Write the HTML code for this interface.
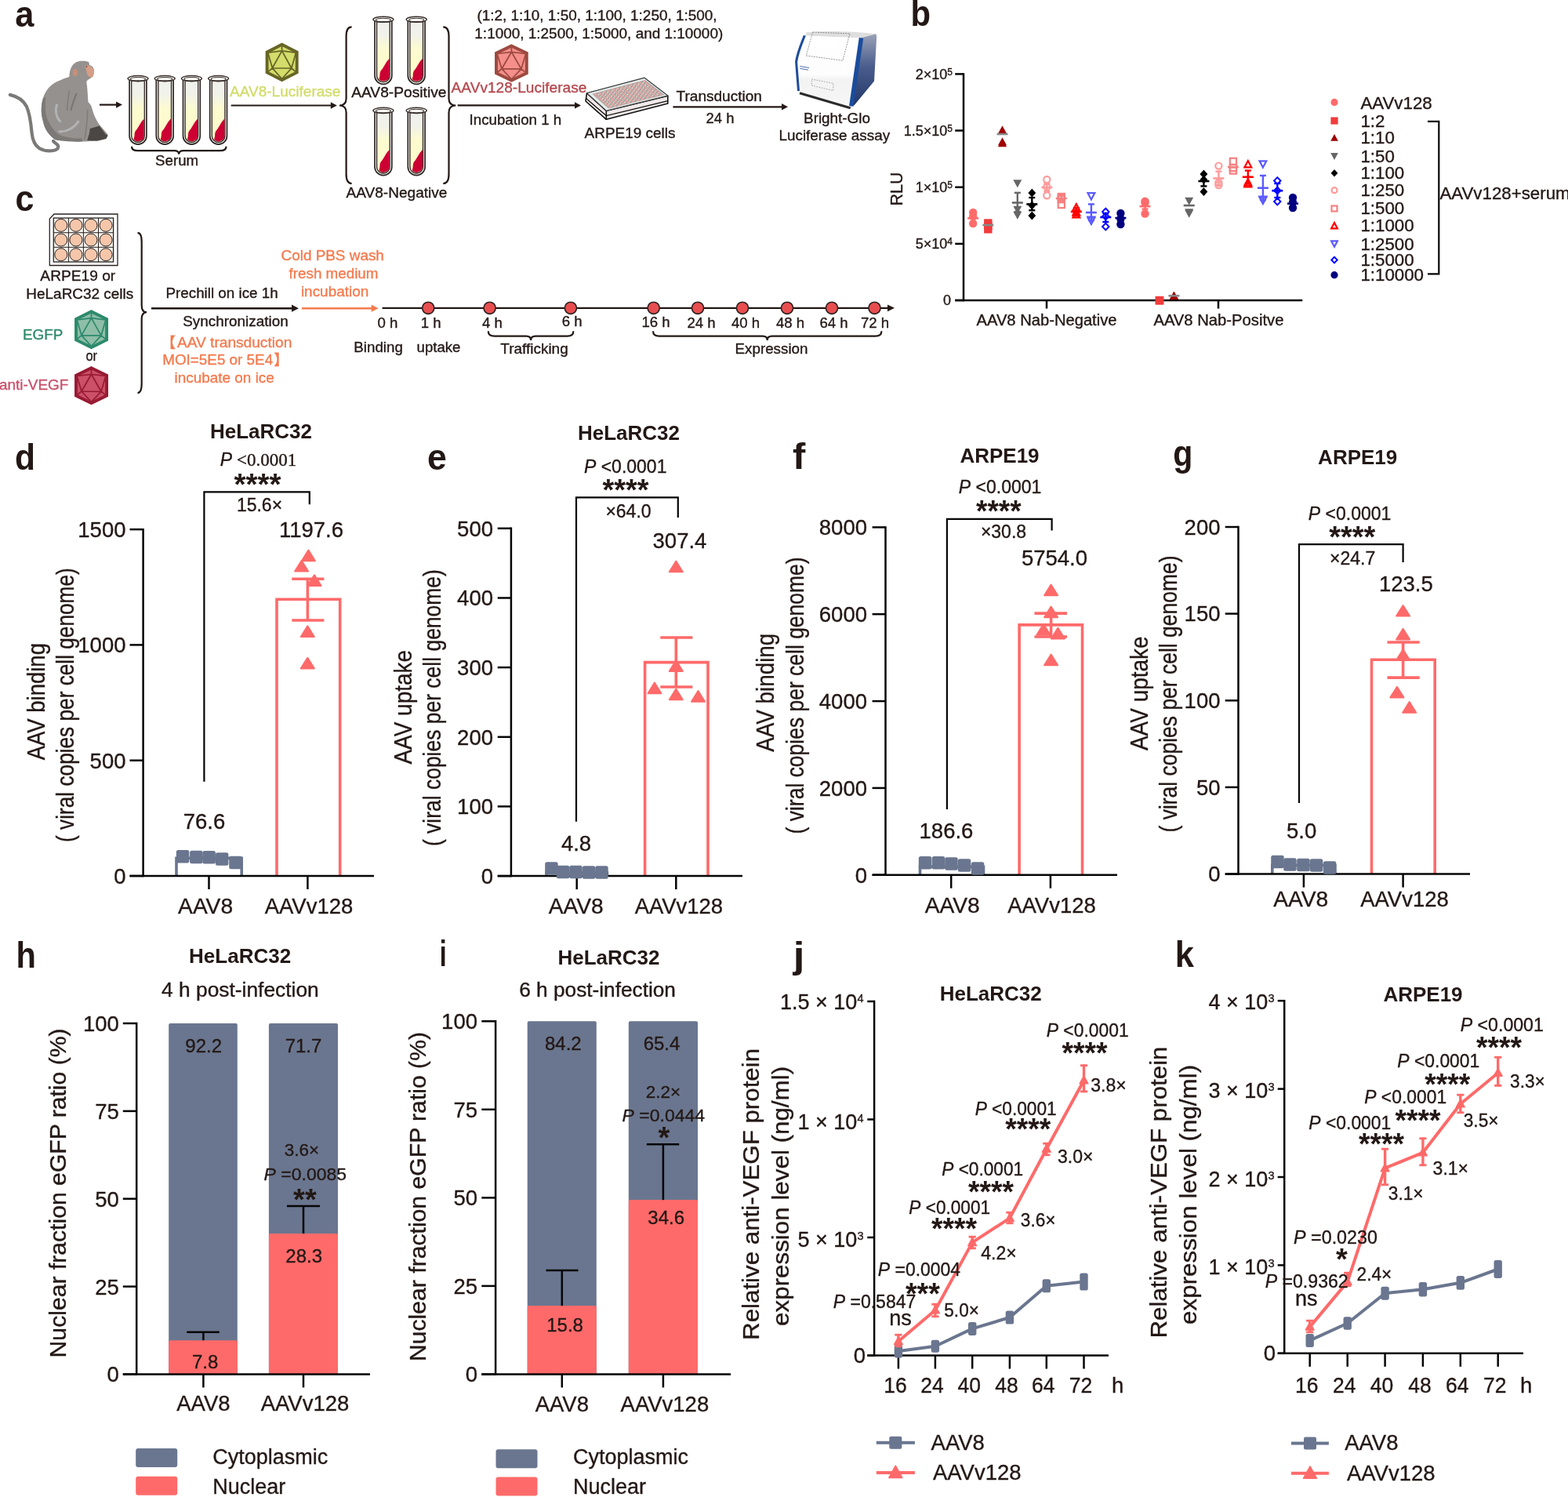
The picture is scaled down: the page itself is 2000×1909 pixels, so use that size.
<!DOCTYPE html>
<html><head><meta charset="utf-8"><title>Figure</title>
<style>
html,body{margin:0;padding:0;background:#fff;}
svg{display:block;font-family:'Liberation Sans', Arial, Helvetica, sans-serif;}
</style></head><body>
<svg width="2000" height="1909" viewBox="0 0 2000 1909" fill="#231815">
<defs><linearGradient id="tubeg" x1="0" y1="0" x2="0" y2="1"><stop offset="0" stop-color="#f0f1ec"/><stop offset="0.22" stop-color="#f1f2ea"/><stop offset="0.45" stop-color="#fcfbd0"/><stop offset="1" stop-color="#fdfcc8"/></linearGradient></defs>
<rect width="2000" height="1909" fill="#fff"/>
<text x="32.1" y="598.5" font-size="47" text-anchor="middle" font-weight="bold" textLength="26.0" lengthAdjust="spacingAndGlyphs">d</text>
<text x="333.0" y="559.4" font-size="26" text-anchor="middle" font-weight="bold">HeLaRC32</text>
<line x1="165.5" y1="1117.0" x2="182.6" y2="1117.0" stroke="#050505" stroke-width="2.5" />
<text x="160.5" y="1126.8" font-size="27.5" text-anchor="end" stroke="#231815" stroke-width="0.35">0</text>
<line x1="165.5" y1="969.7" x2="182.6" y2="969.7" stroke="#050505" stroke-width="2.5" />
<text x="160.5" y="979.5" font-size="27.5" text-anchor="end" stroke="#231815" stroke-width="0.35">500</text>
<line x1="165.5" y1="822.4" x2="182.6" y2="822.4" stroke="#050505" stroke-width="2.5" />
<text x="160.5" y="832.2" font-size="27.5" text-anchor="end" stroke="#231815" stroke-width="0.35">1000</text>
<line x1="165.5" y1="675.1" x2="182.6" y2="675.1" stroke="#050505" stroke-width="2.5" />
<text x="160.5" y="684.9" font-size="27.5" text-anchor="end" stroke="#231815" stroke-width="0.35">1500</text>
<line x1="182.6" y1="673.9" x2="182.6" y2="1118.2" stroke="#050505" stroke-width="2.5" />
<path d="M225.0,1117.0 V1094.4 H308.2 V1117.0" fill="none" stroke="#6a768f" stroke-width="3.6" />
<path d="M353.0,1117.0 V764.2 H433.7 V1117.0" fill="none" stroke="#fe6a6a" stroke-width="3.6" />
<line x1="165.5" y1="1117.0" x2="477.0" y2="1117.0" stroke="#050505" stroke-width="2.5" />
<line x1="266.5" y1="1117.0" x2="266.5" y2="1134.0" stroke="#050505" stroke-width="2.5" />
<line x1="392.4" y1="1117.0" x2="392.4" y2="1134.0" stroke="#050505" stroke-width="2.5" />
<rect x="224.8" y="1084.0" width="16.5" height="16.5" fill="#6a768f" rx="2.5"/>
<rect x="242.1" y="1084.8" width="16.5" height="16.5" fill="#6a768f" rx="2.5"/>
<rect x="258.4" y="1085.0" width="16.5" height="16.5" fill="#6a768f" rx="2.5"/>
<rect x="274.9" y="1087.2" width="16.5" height="16.5" fill="#6a768f" rx="2.5"/>
<rect x="292.2" y="1091.7" width="16.5" height="16.5" fill="#6a768f" rx="2.5"/>
<line x1="392.4" y1="738.2" x2="392.4" y2="791.0" stroke="#fe6a6a" stroke-width="3.6" />
<line x1="372.3" y1="738.2" x2="413.4" y2="738.2" stroke="#fe6a6a" stroke-width="3.6" />
<line x1="372.3" y1="791.0" x2="413.4" y2="791.0" stroke="#fe6a6a" stroke-width="3.6" />
<path d="M393.4,701.6 L401.9,715.2 L384.9,715.2 Z" fill="#fe6a6a" stroke="#fe6a6a" stroke-width="2" stroke-linejoin="round"/>
<path d="M384.6,715.0 L393.1,728.6 L376.1,728.6 Z" fill="#fe6a6a" stroke="#fe6a6a" stroke-width="2" stroke-linejoin="round"/>
<path d="M401.0,733.3 L409.5,746.9 L392.5,746.9 Z" fill="#fe6a6a" stroke="#fe6a6a" stroke-width="2" stroke-linejoin="round"/>
<path d="M392.3,798.4 L400.8,812.0 L383.8,812.0 Z" fill="#fe6a6a" stroke="#fe6a6a" stroke-width="2" stroke-linejoin="round"/>
<path d="M392.3,838.8 L400.8,852.4 L383.8,852.4 Z" fill="#fe6a6a" stroke="#fe6a6a" stroke-width="2" stroke-linejoin="round"/>
<text x="262.1" y="1164.5" font-size="28.5" text-anchor="middle" stroke="#231815" stroke-width="0.35" textLength="70.0" lengthAdjust="spacingAndGlyphs">AAV8</text>
<text x="394.0" y="1164.5" font-size="28.5" text-anchor="middle" stroke="#231815" stroke-width="0.35" textLength="112.5" lengthAdjust="spacingAndGlyphs">AAVv128</text>
<path d="M260.4,996.8 V627.3 H394.8 V643.2" fill="none" stroke="#050505" stroke-width="2.2" />
<text x="57.0" y="894.7" font-size="31" text-anchor="middle" stroke="#231815" stroke-width="0.35" textLength="149.3" lengthAdjust="spacingAndGlyphs" transform="rotate(-90 57.0 894.7)">AAV binding</text>
<text x="94.0" y="899.1" font-size="31" text-anchor="middle" stroke="#231815" stroke-width="0.35" textLength="349.6" lengthAdjust="spacingAndGlyphs" transform="rotate(-90 94.0 899.1)">( viral copies per cell genome)</text>
<text x="329.5" y="593.9" font-size="23" text-anchor="middle" stroke="#231815" stroke-width="0.35"><tspan font-style="italic">P</tspan><tspan font-family="'Liberation Serif', 'Times New Roman', serif"> &lt;0.0001</tspan></text>
<text x="328.5" y="631.0" font-size="38" text-anchor="middle" font-weight="bold" textLength="60.0" lengthAdjust="spacingAndGlyphs">****</text>
<text x="331.0" y="652.0" font-size="23" text-anchor="middle" stroke="#231815" stroke-width="0.35">15.6×</text>
<text x="397.0" y="685.4" font-size="27.5" text-anchor="middle" stroke="#231815" stroke-width="0.35">1197.6</text>
<text x="260.5" y="1056.6" font-size="27.5" text-anchor="middle" stroke="#231815" stroke-width="0.35">76.6</text>
<text x="557.4" y="598.5" font-size="47" text-anchor="middle" font-weight="bold" textLength="24.8" lengthAdjust="spacingAndGlyphs">e</text>
<text x="802.0" y="560.5" font-size="26" text-anchor="middle" font-weight="bold">HeLaRC32</text>
<line x1="634.7" y1="1117.1" x2="651.9" y2="1117.1" stroke="#050505" stroke-width="2.5" />
<text x="629.0" y="1126.9" font-size="27.5" text-anchor="end" stroke="#231815" stroke-width="0.35">0</text>
<line x1="634.7" y1="1028.4" x2="651.9" y2="1028.4" stroke="#050505" stroke-width="2.5" />
<text x="629.0" y="1038.2" font-size="27.5" text-anchor="end" stroke="#231815" stroke-width="0.35">100</text>
<line x1="634.7" y1="939.8" x2="651.9" y2="939.8" stroke="#050505" stroke-width="2.5" />
<text x="629.0" y="949.6" font-size="27.5" text-anchor="end" stroke="#231815" stroke-width="0.35">200</text>
<line x1="634.7" y1="851.1" x2="651.9" y2="851.1" stroke="#050505" stroke-width="2.5" />
<text x="629.0" y="860.9" font-size="27.5" text-anchor="end" stroke="#231815" stroke-width="0.35">300</text>
<line x1="634.7" y1="762.5" x2="651.9" y2="762.5" stroke="#050505" stroke-width="2.5" />
<text x="629.0" y="772.3" font-size="27.5" text-anchor="end" stroke="#231815" stroke-width="0.35">400</text>
<line x1="634.7" y1="673.8" x2="651.9" y2="673.8" stroke="#050505" stroke-width="2.5" />
<text x="629.0" y="683.6" font-size="27.5" text-anchor="end" stroke="#231815" stroke-width="0.35">500</text>
<line x1="651.9" y1="672.5" x2="651.9" y2="1118.3" stroke="#050505" stroke-width="2.5" />
<path d="M697.0,1117.1 V1112.8 H774.4 V1117.1" fill="none" stroke="#6a768f" stroke-width="3.6" />
<path d="M822.6,1117.1 V844.6 H903.0 V1117.1" fill="none" stroke="#fe6a6a" stroke-width="3.6" />
<line x1="634.7" y1="1117.1" x2="947.0" y2="1117.1" stroke="#050505" stroke-width="2.5" />
<line x1="735.7" y1="1117.1" x2="735.7" y2="1134.1" stroke="#050505" stroke-width="2.5" />
<line x1="862.3" y1="1117.1" x2="862.3" y2="1134.1" stroke="#050505" stroke-width="2.5" />
<rect x="695.2" y="1099.2" width="16.5" height="16.5" fill="#6a768f" rx="2.5"/>
<rect x="709.8" y="1103.8" width="16.5" height="16.5" fill="#6a768f" rx="2.5"/>
<rect x="726.2" y="1103.8" width="16.5" height="16.5" fill="#6a768f" rx="2.5"/>
<rect x="742.8" y="1104.2" width="16.5" height="16.5" fill="#6a768f" rx="2.5"/>
<rect x="759.2" y="1104.2" width="16.5" height="16.5" fill="#6a768f" rx="2.5"/>
<line x1="862.3" y1="813.0" x2="862.3" y2="876.0" stroke="#fe6a6a" stroke-width="3.6" />
<line x1="842.3" y1="813.0" x2="883.4" y2="813.0" stroke="#fe6a6a" stroke-width="3.6" />
<line x1="842.3" y1="876.0" x2="883.4" y2="876.0" stroke="#fe6a6a" stroke-width="3.6" />
<path d="M862.3,715.6 L870.8,729.2 L853.8,729.2 Z" fill="#fe6a6a" stroke="#fe6a6a" stroke-width="2" stroke-linejoin="round"/>
<path d="M862.3,842.3 L870.8,855.9 L853.8,855.9 Z" fill="#fe6a6a" stroke="#fe6a6a" stroke-width="2" stroke-linejoin="round"/>
<path d="M834.9,870.6 L843.4,884.2 L826.4,884.2 Z" fill="#fe6a6a" stroke="#fe6a6a" stroke-width="2" stroke-linejoin="round"/>
<path d="M862.3,878.6 L870.8,892.2 L853.8,892.2 Z" fill="#fe6a6a" stroke="#fe6a6a" stroke-width="2" stroke-linejoin="round"/>
<path d="M890.5,881.1 L899.0,894.7 L882.0,894.7 Z" fill="#fe6a6a" stroke="#fe6a6a" stroke-width="2" stroke-linejoin="round"/>
<text x="734.8" y="1164.5" font-size="28.5" text-anchor="middle" stroke="#231815" stroke-width="0.35" textLength="70.0" lengthAdjust="spacingAndGlyphs">AAV8</text>
<text x="865.9" y="1164.5" font-size="28.5" text-anchor="middle" stroke="#231815" stroke-width="0.35" textLength="112.5" lengthAdjust="spacingAndGlyphs">AAVv128</text>
<path d="M735.0,1047.8 V634.4 H864.8 V660.0" fill="none" stroke="#050505" stroke-width="2.2" />
<text x="524.8" y="901.7" font-size="31" text-anchor="middle" stroke="#231815" stroke-width="0.35" textLength="145.8" lengthAdjust="spacingAndGlyphs" transform="rotate(-90 524.8 901.7)">AAV uptake</text>
<text x="562.2" y="902.6" font-size="31" text-anchor="middle" stroke="#231815" stroke-width="0.35" textLength="353.0" lengthAdjust="spacingAndGlyphs" transform="rotate(-90 562.2 902.6)">( viral copies per cell genome)</text>
<text x="797.7" y="602.7" font-size="23" text-anchor="middle" stroke="#231815" stroke-width="0.35"><tspan font-style="italic">P</tspan><tspan> &lt;0.0001</tspan></text>
<text x="798.0" y="638.3" font-size="38" text-anchor="middle" font-weight="bold" textLength="59.0" lengthAdjust="spacingAndGlyphs">****</text>
<text x="801.5" y="660.0" font-size="23" text-anchor="middle" stroke="#231815" stroke-width="0.35">×64.0</text>
<text x="867.0" y="698.7" font-size="27.5" text-anchor="middle" stroke="#231815" stroke-width="0.35">307.4</text>
<text x="735.0" y="1084.7" font-size="27.5" text-anchor="middle" stroke="#231815" stroke-width="0.35">4.8</text>
<text x="1019.1" y="598.0" font-size="47" text-anchor="middle" font-weight="bold" textLength="16.3" lengthAdjust="spacingAndGlyphs">f</text>
<text x="1275.0" y="590.4" font-size="26" text-anchor="middle" font-weight="bold">ARPE19</text>
<line x1="1112.6" y1="1115.7" x2="1129.5" y2="1115.7" stroke="#050505" stroke-width="2.5" />
<text x="1106.0" y="1125.5" font-size="27.5" text-anchor="end" stroke="#231815" stroke-width="0.35">0</text>
<line x1="1112.6" y1="1004.9" x2="1129.5" y2="1004.9" stroke="#050505" stroke-width="2.5" />
<text x="1106.0" y="1014.7" font-size="27.5" text-anchor="end" stroke="#231815" stroke-width="0.35">2000</text>
<line x1="1112.6" y1="894.1" x2="1129.5" y2="894.1" stroke="#050505" stroke-width="2.5" />
<text x="1106.0" y="903.9" font-size="27.5" text-anchor="end" stroke="#231815" stroke-width="0.35">4000</text>
<line x1="1112.6" y1="783.2" x2="1129.5" y2="783.2" stroke="#050505" stroke-width="2.5" />
<text x="1106.0" y="793.0" font-size="27.5" text-anchor="end" stroke="#231815" stroke-width="0.35">6000</text>
<line x1="1112.6" y1="672.4" x2="1129.5" y2="672.4" stroke="#050505" stroke-width="2.5" />
<text x="1106.0" y="682.2" font-size="27.5" text-anchor="end" stroke="#231815" stroke-width="0.35">8000</text>
<line x1="1129.5" y1="671.2" x2="1129.5" y2="1117.0" stroke="#050505" stroke-width="2.5" />
<path d="M1173.5,1115.7 V1105.4 H1254.5 V1115.7" fill="none" stroke="#6a768f" stroke-width="3.6" />
<path d="M1300.1,1115.7 V796.9 H1380.5 V1115.7" fill="none" stroke="#fe6a6a" stroke-width="3.6" />
<line x1="1112.6" y1="1115.7" x2="1425.0" y2="1115.7" stroke="#050505" stroke-width="2.5" />
<line x1="1213.2" y1="1115.7" x2="1213.2" y2="1132.7" stroke="#050505" stroke-width="2.5" />
<line x1="1339.9" y1="1115.7" x2="1339.9" y2="1132.7" stroke="#050505" stroke-width="2.5" />
<rect x="1171.8" y="1092.0" width="16.5" height="16.5" fill="#6a768f" rx="2.5"/>
<rect x="1188.8" y="1092.0" width="16.5" height="16.5" fill="#6a768f" rx="2.5"/>
<rect x="1205.2" y="1093.2" width="16.5" height="16.5" fill="#6a768f" rx="2.5"/>
<rect x="1221.8" y="1095.2" width="16.5" height="16.5" fill="#6a768f" rx="2.5"/>
<rect x="1238.8" y="1099.2" width="16.5" height="16.5" fill="#6a768f" rx="2.5"/>
<line x1="1340.6" y1="782.1" x2="1340.6" y2="812.0" stroke="#fe6a6a" stroke-width="3.6" />
<line x1="1319.5" y1="782.1" x2="1361.0" y2="782.1" stroke="#fe6a6a" stroke-width="3.6" />
<line x1="1319.5" y1="812.0" x2="1361.0" y2="812.0" stroke="#fe6a6a" stroke-width="3.6" />
<path d="M1340.6,745.6 L1349.1,759.2 L1332.1,759.2 Z" fill="#fe6a6a" stroke="#fe6a6a" stroke-width="2" stroke-linejoin="round"/>
<path d="M1340.6,773.6 L1349.1,787.2 L1332.1,787.2 Z" fill="#fe6a6a" stroke="#fe6a6a" stroke-width="2" stroke-linejoin="round"/>
<path d="M1331.0,795.9 L1339.5,809.5 L1322.5,809.5 Z" fill="#fe6a6a" stroke="#fe6a6a" stroke-width="2" stroke-linejoin="round"/>
<path d="M1349.4,800.8 L1357.9,814.4 L1340.9,814.4 Z" fill="#fe6a6a" stroke="#fe6a6a" stroke-width="2" stroke-linejoin="round"/>
<path d="M1340.6,834.6 L1349.1,848.2 L1332.1,848.2 Z" fill="#fe6a6a" stroke="#fe6a6a" stroke-width="2" stroke-linejoin="round"/>
<text x="1214.8" y="1163.5" font-size="28.5" text-anchor="middle" stroke="#231815" stroke-width="0.35" textLength="70.0" lengthAdjust="spacingAndGlyphs">AAV8</text>
<text x="1341.5" y="1163.5" font-size="28.5" text-anchor="middle" stroke="#231815" stroke-width="0.35" textLength="112.5" lengthAdjust="spacingAndGlyphs">AAVv128</text>
<path d="M1207.9,1032.0 V661.8 H1341.6 V676.6" fill="none" stroke="#050505" stroke-width="2.2" />
<text x="987.2" y="883.2" font-size="31" text-anchor="middle" stroke="#231815" stroke-width="0.35" textLength="151.0" lengthAdjust="spacingAndGlyphs" transform="rotate(-90 987.2 883.2)">AAV binding</text>
<text x="1024.6" y="886.9" font-size="31" text-anchor="middle" stroke="#231815" stroke-width="0.35" textLength="353.0" lengthAdjust="spacingAndGlyphs" transform="rotate(-90 1024.6 886.9)">( viral copies per cell genome)</text>
<text x="1275.6" y="629.0" font-size="23" text-anchor="middle" stroke="#231815" stroke-width="0.35"><tspan font-style="italic">P</tspan><tspan> &lt;0.0001</tspan></text>
<text x="1273.8" y="664.7" font-size="38" text-anchor="middle" font-weight="bold" textLength="57.5" lengthAdjust="spacingAndGlyphs">****</text>
<text x="1280.0" y="686.1" font-size="23" text-anchor="middle" stroke="#231815" stroke-width="0.35">×30.8</text>
<text x="1345.0" y="720.6" font-size="27.5" text-anchor="middle" stroke="#231815" stroke-width="0.35">5754.0</text>
<text x="1207.0" y="1068.9" font-size="27.5" text-anchor="middle" stroke="#231815" stroke-width="0.35">186.6</text>
<text x="1508.9" y="594.0" font-size="47" text-anchor="middle" font-weight="bold" textLength="25.1" lengthAdjust="spacingAndGlyphs">g</text>
<text x="1731.7" y="592.1" font-size="26" text-anchor="middle" font-weight="bold">ARPE19</text>
<line x1="1562.7" y1="1114.6" x2="1579.5" y2="1114.6" stroke="#050505" stroke-width="2.5" />
<text x="1556.5" y="1124.4" font-size="27.5" text-anchor="end" stroke="#231815" stroke-width="0.35">0</text>
<line x1="1562.7" y1="1003.9" x2="1579.5" y2="1003.9" stroke="#050505" stroke-width="2.5" />
<text x="1556.5" y="1013.7" font-size="27.5" text-anchor="end" stroke="#231815" stroke-width="0.35">50</text>
<line x1="1562.7" y1="893.3" x2="1579.5" y2="893.3" stroke="#050505" stroke-width="2.5" />
<text x="1556.5" y="903.1" font-size="27.5" text-anchor="end" stroke="#231815" stroke-width="0.35">100</text>
<line x1="1562.7" y1="782.6" x2="1579.5" y2="782.6" stroke="#050505" stroke-width="2.5" />
<text x="1556.5" y="792.4" font-size="27.5" text-anchor="end" stroke="#231815" stroke-width="0.35">150</text>
<line x1="1562.7" y1="672.0" x2="1579.5" y2="672.0" stroke="#050505" stroke-width="2.5" />
<text x="1556.5" y="681.8" font-size="27.5" text-anchor="end" stroke="#231815" stroke-width="0.35">200</text>
<line x1="1579.5" y1="670.7" x2="1579.5" y2="1115.8" stroke="#050505" stroke-width="2.5" />
<path d="M1622.8,1114.6 V1103.5 H1702.9 V1114.6" fill="none" stroke="#6a768f" stroke-width="3.6" />
<path d="M1749.5,1114.6 V841.3 H1830.2 V1114.6" fill="none" stroke="#fe6a6a" stroke-width="3.6" />
<line x1="1562.7" y1="1114.6" x2="1875.0" y2="1114.6" stroke="#050505" stroke-width="2.5" />
<line x1="1662.9" y1="1114.6" x2="1662.9" y2="1131.6" stroke="#050505" stroke-width="2.5" />
<line x1="1789.6" y1="1114.6" x2="1789.6" y2="1131.6" stroke="#050505" stroke-width="2.5" />
<rect x="1621.2" y="1090.8" width="16.5" height="16.5" fill="#6a768f" rx="2.5"/>
<rect x="1637.2" y="1094.2" width="16.5" height="16.5" fill="#6a768f" rx="2.5"/>
<rect x="1654.2" y="1094.8" width="16.5" height="16.5" fill="#6a768f" rx="2.5"/>
<rect x="1670.8" y="1095.2" width="16.5" height="16.5" fill="#6a768f" rx="2.5"/>
<rect x="1687.8" y="1098.2" width="16.5" height="16.5" fill="#6a768f" rx="2.5"/>
<line x1="1789.6" y1="819.0" x2="1789.6" y2="864.1" stroke="#fe6a6a" stroke-width="3.6" />
<line x1="1769.5" y1="819.0" x2="1810.7" y2="819.0" stroke="#fe6a6a" stroke-width="3.6" />
<line x1="1769.5" y1="864.1" x2="1810.7" y2="864.1" stroke="#fe6a6a" stroke-width="3.6" />
<path d="M1789.6,772.0 L1798.1,785.6 L1781.1,785.6 Z" fill="#fe6a6a" stroke="#fe6a6a" stroke-width="2" stroke-linejoin="round"/>
<path d="M1789.6,801.9 L1798.1,815.5 L1781.1,815.5 Z" fill="#fe6a6a" stroke="#fe6a6a" stroke-width="2" stroke-linejoin="round"/>
<path d="M1789.6,828.3 L1798.1,841.9 L1781.1,841.9 Z" fill="#fe6a6a" stroke="#fe6a6a" stroke-width="2" stroke-linejoin="round"/>
<path d="M1781.9,875.8 L1790.4,889.4 L1773.4,889.4 Z" fill="#fe6a6a" stroke="#fe6a6a" stroke-width="2" stroke-linejoin="round"/>
<path d="M1797.7,895.1 L1806.2,908.7 L1789.2,908.7 Z" fill="#fe6a6a" stroke="#fe6a6a" stroke-width="2" stroke-linejoin="round"/>
<text x="1659.3" y="1155.5" font-size="28.5" text-anchor="middle" stroke="#231815" stroke-width="0.35" textLength="70.0" lengthAdjust="spacingAndGlyphs">AAV8</text>
<text x="1791.5" y="1155.5" font-size="28.5" text-anchor="middle" stroke="#231815" stroke-width="0.35" textLength="112.5" lengthAdjust="spacingAndGlyphs">AAVv128</text>
<path d="M1657.0,1023.9 V694.2 H1789.6 V717.0" fill="none" stroke="#050505" stroke-width="2.2" />
<text x="1463.7" y="884.2" font-size="31" text-anchor="middle" stroke="#231815" stroke-width="0.35" textLength="145.8" lengthAdjust="spacingAndGlyphs" transform="rotate(-90 1463.7 884.2)">AAV uptake</text>
<text x="1501.1" y="885.0" font-size="31" text-anchor="middle" stroke="#231815" stroke-width="0.35" textLength="353.0" lengthAdjust="spacingAndGlyphs" transform="rotate(-90 1501.1 885.0)">( viral copies per cell genome)</text>
<text x="1721.6" y="662.5" font-size="23" text-anchor="middle" stroke="#231815" stroke-width="0.35"><tspan font-style="italic">P</tspan><tspan> &lt;0.0001</tspan></text>
<text x="1724.7" y="698.0" font-size="38" text-anchor="middle" font-weight="bold" textLength="59.0" lengthAdjust="spacingAndGlyphs">****</text>
<text x="1725.2" y="719.5" font-size="23" text-anchor="middle" stroke="#231815" stroke-width="0.35">×24.7</text>
<text x="1793.3" y="754.0" font-size="27.5" text-anchor="middle" stroke="#231815" stroke-width="0.35">123.5</text>
<text x="1660.1" y="1068.9" font-size="27.5" text-anchor="middle" stroke="#231815" stroke-width="0.35">5.0</text>
<text x="33.1" y="1234.0" font-size="47" text-anchor="middle" font-weight="bold" textLength="25.4" lengthAdjust="spacingAndGlyphs">h</text>
<text x="306.1" y="1228.3" font-size="26" text-anchor="middle" font-weight="bold">HeLaRC32</text>
<text x="306.4" y="1270.5" font-size="25.5" text-anchor="middle" stroke="#231815" stroke-width="0.35" textLength="200.6" lengthAdjust="spacingAndGlyphs">4 h post-infection</text>
<path d="M215.2,1752.4 V1307.0 Q215.2,1305.0 217.2,1305.0 H300.8 Q302.8,1305.0 302.8,1307.0 V1752.4 Z" fill="#6a768f" />
<path d="M215.2,1752.4 V1711.2 Q215.2,1709.2 217.2,1709.2 H300.8 Q302.8,1709.2 302.8,1711.2 V1752.4 Z" fill="#fe6a6a" />
<path d="M342.9,1752.4 V1307.0 Q342.9,1305.0 344.9,1305.0 H429.0 Q431.0,1305.0 431.0,1307.0 V1752.4 Z" fill="#6a768f" />
<path d="M342.9,1752.4 V1575.0 Q342.9,1573.0 344.9,1573.0 H429.0 Q431.0,1573.0 431.0,1575.0 V1752.4 Z" fill="#fe6a6a" />
<line x1="156.8" y1="1752.4" x2="174.2" y2="1752.4" stroke="#050505" stroke-width="2.5" />
<text x="151.8" y="1762.3" font-size="27.5" text-anchor="end" stroke="#231815" stroke-width="0.35">0</text>
<line x1="156.8" y1="1640.6" x2="174.2" y2="1640.6" stroke="#050505" stroke-width="2.5" />
<text x="151.8" y="1650.5" font-size="27.5" text-anchor="end" stroke="#231815" stroke-width="0.35">25</text>
<line x1="156.8" y1="1528.7" x2="174.2" y2="1528.7" stroke="#050505" stroke-width="2.5" />
<text x="151.8" y="1538.6" font-size="27.5" text-anchor="end" stroke="#231815" stroke-width="0.35">50</text>
<line x1="156.8" y1="1416.9" x2="174.2" y2="1416.9" stroke="#050505" stroke-width="2.5" />
<text x="151.8" y="1426.8" font-size="27.5" text-anchor="end" stroke="#231815" stroke-width="0.35">75</text>
<line x1="156.8" y1="1305.0" x2="174.2" y2="1305.0" stroke="#050505" stroke-width="2.5" />
<text x="151.8" y="1314.9" font-size="27.5" text-anchor="end" stroke="#231815" stroke-width="0.35">100</text>
<line x1="174.2" y1="1303.8" x2="174.2" y2="1753.6" stroke="#050505" stroke-width="2.5" />
<line x1="156.8" y1="1752.4" x2="472.0" y2="1752.4" stroke="#050505" stroke-width="2.5" />
<line x1="259.4" y1="1752.4" x2="259.4" y2="1769.4" stroke="#050505" stroke-width="2.5" />
<line x1="387.0" y1="1752.4" x2="387.0" y2="1769.4" stroke="#050505" stroke-width="2.5" />
<line x1="259.4" y1="1709.2" x2="259.4" y2="1698.8" stroke="#050505" stroke-width="2.5" />
<line x1="238.3" y1="1698.8" x2="279.7" y2="1698.8" stroke="#050505" stroke-width="2.5" />
<line x1="387.0" y1="1573.1" x2="387.0" y2="1537.9" stroke="#050505" stroke-width="2.5" />
<line x1="365.9" y1="1537.9" x2="408.0" y2="1537.9" stroke="#050505" stroke-width="2.5" />
<text x="259.4" y="1799.0" font-size="27.5" text-anchor="middle" stroke="#231815" stroke-width="0.35">AAV8</text>
<text x="389.0" y="1799.0" font-size="27.5" text-anchor="middle" stroke="#231815" stroke-width="0.35">AAVv128</text>
<text x="84.0" y="1521.4" font-size="30" text-anchor="middle" stroke="#231815" stroke-width="0.35" textLength="420.0" lengthAdjust="spacingAndGlyphs" transform="rotate(-90 84.0 1521.4)">Nuclear fraction eGFP ratio (%)</text>
<rect x="173.2" y="1847.0" width="53.0" height="24.0" fill="#6a768f" rx="3"/>
<rect x="173.2" y="1882.7" width="53.0" height="24.0" fill="#fe6a6a" rx="3"/>
<text x="271.3" y="1867.4" font-size="27" stroke="#231815" stroke-width="0.35">Cytoplasmic</text>
<text x="271.3" y="1904.6" font-size="27" stroke="#231815" stroke-width="0.35">Nuclear</text>
<text x="259.7" y="1342.0" font-size="24" text-anchor="middle" stroke="#231815" stroke-width="0.35">92.2</text>
<text x="387.0" y="1342.0" font-size="24" text-anchor="middle" stroke="#231815" stroke-width="0.35">71.7</text>
<text x="261.7" y="1744.8" font-size="24" text-anchor="middle" stroke="#231815" stroke-width="0.35">7.8</text>
<text x="387.7" y="1609.5" font-size="24" text-anchor="middle" stroke="#231815" stroke-width="0.35">28.3</text>
<text x="385.0" y="1474.3" font-size="22.5" text-anchor="middle" stroke="#231815" stroke-width="0.35">3.6×</text>
<text x="389.3" y="1505.0" font-size="22.5" text-anchor="middle" stroke="#231815" stroke-width="0.35" textLength="105.5" lengthAdjust="spacingAndGlyphs"><tspan font-style="italic">P</tspan><tspan> =0.0085</tspan></text>
<text x="388.9" y="1543.2" font-size="38" text-anchor="middle" font-weight="bold">**</text>
<text x="565.1" y="1232.0" font-size="47" text-anchor="middle" font-weight="bold" textLength="8.9" lengthAdjust="spacingAndGlyphs">i</text>
<text x="776.5" y="1229.5" font-size="26" text-anchor="middle" font-weight="bold">HeLaRC32</text>
<text x="762.1" y="1270.5" font-size="25.5" text-anchor="middle" stroke="#231815" stroke-width="0.35" textLength="199.7" lengthAdjust="spacingAndGlyphs">6 h post-infection</text>
<path d="M672.7,1752.4 V1304.3 Q672.7,1302.3 674.7,1302.3 H758.8 Q760.8,1302.3 760.8,1304.3 V1752.4 Z" fill="#6a768f" />
<path d="M672.7,1752.4 V1667.1 Q672.7,1665.1 674.7,1665.1 H758.8 Q760.8,1665.1 760.8,1667.1 V1752.4 Z" fill="#fe6a6a" />
<path d="M801.8,1752.4 V1304.3 Q801.8,1302.3 803.8,1302.3 H888.0 Q890.0,1302.3 890.0,1304.3 V1752.4 Z" fill="#6a768f" />
<path d="M801.8,1752.4 V1532.1 Q801.8,1530.1 803.8,1530.1 H888.0 Q890.0,1530.1 890.0,1532.1 V1752.4 Z" fill="#fe6a6a" />
<line x1="614.3" y1="1752.4" x2="632.1" y2="1752.4" stroke="#050505" stroke-width="2.5" />
<text x="609.0" y="1762.3" font-size="27.5" text-anchor="end" stroke="#231815" stroke-width="0.35">0</text>
<line x1="614.3" y1="1639.9" x2="632.1" y2="1639.9" stroke="#050505" stroke-width="2.5" />
<text x="609.0" y="1649.8" font-size="27.5" text-anchor="end" stroke="#231815" stroke-width="0.35">25</text>
<line x1="614.3" y1="1527.4" x2="632.1" y2="1527.4" stroke="#050505" stroke-width="2.5" />
<text x="609.0" y="1537.3" font-size="27.5" text-anchor="end" stroke="#231815" stroke-width="0.35">50</text>
<line x1="614.3" y1="1414.8" x2="632.1" y2="1414.8" stroke="#050505" stroke-width="2.5" />
<text x="609.0" y="1424.7" font-size="27.5" text-anchor="end" stroke="#231815" stroke-width="0.35">75</text>
<line x1="614.3" y1="1302.3" x2="632.1" y2="1302.3" stroke="#050505" stroke-width="2.5" />
<text x="609.0" y="1312.2" font-size="27.5" text-anchor="end" stroke="#231815" stroke-width="0.35">100</text>
<line x1="632.1" y1="1301.1" x2="632.1" y2="1753.6" stroke="#050505" stroke-width="2.5" />
<line x1="614.3" y1="1752.4" x2="932.1" y2="1752.4" stroke="#050505" stroke-width="2.5" />
<line x1="716.8" y1="1752.4" x2="716.8" y2="1769.4" stroke="#050505" stroke-width="2.5" />
<line x1="845.9" y1="1752.4" x2="845.9" y2="1769.4" stroke="#050505" stroke-width="2.5" />
<line x1="716.8" y1="1665.1" x2="716.8" y2="1619.9" stroke="#050505" stroke-width="2.5" />
<line x1="696.5" y1="1619.9" x2="737.5" y2="1619.9" stroke="#050505" stroke-width="2.5" />
<line x1="845.9" y1="1530.2" x2="845.9" y2="1459.3" stroke="#050505" stroke-width="2.5" />
<line x1="824.8" y1="1459.3" x2="866.2" y2="1459.3" stroke="#050505" stroke-width="2.5" />
<text x="716.8" y="1799.5" font-size="27.5" text-anchor="middle" stroke="#231815" stroke-width="0.35">AAV8</text>
<text x="847.9" y="1799.5" font-size="27.5" text-anchor="middle" stroke="#231815" stroke-width="0.35">AAVv128</text>
<text x="543.0" y="1526.0" font-size="30" text-anchor="middle" stroke="#231815" stroke-width="0.35" textLength="420.0" lengthAdjust="spacingAndGlyphs" transform="rotate(-90 543.0 1526.0)">Nuclear fraction eGFP ratio (%)</text>
<rect x="632.5" y="1848.2" width="53.0" height="24.0" fill="#6a768f" rx="3"/>
<rect x="632.5" y="1883.5" width="53.0" height="24.0" fill="#fe6a6a" rx="3"/>
<text x="731.0" y="1867.4" font-size="27" stroke="#231815" stroke-width="0.35">Cytoplasmic</text>
<text x="731.0" y="1905.0" font-size="27" stroke="#231815" stroke-width="0.35">Nuclear</text>
<text x="718.3" y="1338.7" font-size="24" text-anchor="middle" stroke="#231815" stroke-width="0.35">84.2</text>
<text x="844.0" y="1338.7" font-size="24" text-anchor="middle" stroke="#231815" stroke-width="0.35">65.4</text>
<text x="720.6" y="1697.7" font-size="24" text-anchor="middle" stroke="#231815" stroke-width="0.35">15.8</text>
<text x="849.7" y="1560.9" font-size="24" text-anchor="middle" stroke="#231815" stroke-width="0.35">34.6</text>
<text x="845.9" y="1399.6" font-size="22.5" text-anchor="middle" stroke="#231815" stroke-width="0.35">2.2×</text>
<text x="846.3" y="1429.5" font-size="22.5" text-anchor="middle" stroke="#231815" stroke-width="0.35" textLength="105.5" lengthAdjust="spacingAndGlyphs"><tspan font-style="italic">P</tspan><tspan> =0.0444</tspan></text>
<text x="847.0" y="1464.0" font-size="38" text-anchor="middle" font-weight="bold">*</text>
<text x="1019.1" y="1234.0" font-size="47" text-anchor="middle" font-weight="bold" textLength="14.6" lengthAdjust="spacingAndGlyphs">j</text>
<text x="1263.7" y="1276.2" font-size="26" text-anchor="middle" font-weight="bold">HeLaRC32</text>
<line x1="1106.3" y1="1728.5" x2="1115.1" y2="1728.5" stroke="#050505" stroke-width="2.5" />
<line x1="1106.3" y1="1578.0" x2="1115.1" y2="1578.0" stroke="#050505" stroke-width="2.5" />
<line x1="1106.3" y1="1427.5" x2="1115.1" y2="1427.5" stroke="#050505" stroke-width="2.5" />
<line x1="1106.3" y1="1277.0" x2="1115.1" y2="1277.0" stroke="#050505" stroke-width="2.5" />
<line x1="1115.1" y1="1275.8" x2="1115.1" y2="1729.7" stroke="#050505" stroke-width="2.5" />
<line x1="1106.3" y1="1728.5" x2="1414.0" y2="1728.5" stroke="#050505" stroke-width="2.5" />
<line x1="1145.9" y1="1728.5" x2="1145.9" y2="1745.5" stroke="#050505" stroke-width="2.5" />
<line x1="1192.9" y1="1728.5" x2="1192.9" y2="1745.5" stroke="#050505" stroke-width="2.5" />
<line x1="1240.2" y1="1728.5" x2="1240.2" y2="1745.5" stroke="#050505" stroke-width="2.5" />
<line x1="1287.9" y1="1728.5" x2="1287.9" y2="1745.5" stroke="#050505" stroke-width="2.5" />
<line x1="1334.8" y1="1728.5" x2="1334.8" y2="1745.5" stroke="#050505" stroke-width="2.5" />
<line x1="1382.5" y1="1728.5" x2="1382.5" y2="1745.5" stroke="#050505" stroke-width="2.5" />
<text x="1141.9" y="1775.5" font-size="27.5" text-anchor="middle" stroke="#231815" stroke-width="0.35" textLength="29.5" lengthAdjust="spacingAndGlyphs">16</text>
<text x="1188.9" y="1775.5" font-size="27.5" text-anchor="middle" stroke="#231815" stroke-width="0.35" textLength="29.5" lengthAdjust="spacingAndGlyphs">24</text>
<text x="1236.2" y="1775.5" font-size="27.5" text-anchor="middle" stroke="#231815" stroke-width="0.35" textLength="29.5" lengthAdjust="spacingAndGlyphs">40</text>
<text x="1283.9" y="1775.5" font-size="27.5" text-anchor="middle" stroke="#231815" stroke-width="0.35" textLength="29.5" lengthAdjust="spacingAndGlyphs">48</text>
<text x="1330.8" y="1775.5" font-size="27.5" text-anchor="middle" stroke="#231815" stroke-width="0.35" textLength="29.5" lengthAdjust="spacingAndGlyphs">64</text>
<text x="1378.5" y="1775.5" font-size="27.5" text-anchor="middle" stroke="#231815" stroke-width="0.35" textLength="29.5" lengthAdjust="spacingAndGlyphs">72</text>
<text x="1425.6" y="1775.5" font-size="27.5" text-anchor="middle" stroke="#231815" stroke-width="0.35">h</text>
<path d="M1145.9,1722.9 L1192.9,1716.7 L1240.2,1694.4 L1287.9,1680.0 L1334.8,1639.8 L1382.5,1634.6" fill="none" stroke="#6a768f" stroke-width="4" stroke-linejoin="round"/>
<path d="M1145.9,1710.6 L1192.9,1670.7 L1240.2,1584.4 L1287.9,1553.4 L1334.8,1465.2 L1382.5,1377.8" fill="none" stroke="#fe6a6a" stroke-width="4" stroke-linejoin="round"/>
<rect x="1140.7" y="1714.4" width="10.4" height="17.0" fill="#6a768f" rx="2.6"/>
<rect x="1187.7" y="1708.7" width="10.4" height="16.0" fill="#6a768f" rx="2.6"/>
<rect x="1235.0" y="1685.9" width="10.4" height="17.0" fill="#6a768f" rx="2.6"/>
<rect x="1282.7" y="1671.5" width="10.4" height="17.0" fill="#6a768f" rx="2.6"/>
<rect x="1329.6" y="1631.3" width="10.4" height="17.0" fill="#6a768f" rx="2.6"/>
<rect x="1377.3" y="1623.6" width="10.4" height="22.0" fill="#6a768f" rx="2.6"/>
<line x1="1145.9" y1="1701.0" x2="1145.9" y2="1718.0" stroke="#fe6a6a" stroke-width="3.4" />
<line x1="1141.3" y1="1702.2" x2="1150.5" y2="1702.2" stroke="#fe6a6a" stroke-width="2.8" />
<line x1="1141.3" y1="1716.8" x2="1150.5" y2="1716.8" stroke="#fe6a6a" stroke-width="2.8" />
<path d="M1145.9,1704.9 L1151.3,1714.6 L1140.5,1714.6 Z" fill="#fe6a6a" stroke="#fe6a6a" stroke-width="1.5" stroke-linejoin="round"/>
<line x1="1192.9" y1="1662.0" x2="1192.9" y2="1680.0" stroke="#fe6a6a" stroke-width="3.4" />
<line x1="1188.3" y1="1663.2" x2="1197.5" y2="1663.2" stroke="#fe6a6a" stroke-width="2.8" />
<line x1="1188.3" y1="1678.8" x2="1197.5" y2="1678.8" stroke="#fe6a6a" stroke-width="2.8" />
<path d="M1192.9,1665.0 L1198.3,1674.8 L1187.5,1674.8 Z" fill="#fe6a6a" stroke="#fe6a6a" stroke-width="1.5" stroke-linejoin="round"/>
<line x1="1240.2" y1="1576.0" x2="1240.2" y2="1593.0" stroke="#fe6a6a" stroke-width="3.4" />
<line x1="1235.6" y1="1577.2" x2="1244.8" y2="1577.2" stroke="#fe6a6a" stroke-width="2.8" />
<line x1="1235.6" y1="1591.8" x2="1244.8" y2="1591.8" stroke="#fe6a6a" stroke-width="2.8" />
<path d="M1240.2,1578.7 L1245.6,1588.5 L1234.8,1588.5 Z" fill="#fe6a6a" stroke="#fe6a6a" stroke-width="1.5" stroke-linejoin="round"/>
<line x1="1287.9" y1="1545.0" x2="1287.9" y2="1561.0" stroke="#fe6a6a" stroke-width="3.4" />
<line x1="1283.3" y1="1546.2" x2="1292.5" y2="1546.2" stroke="#fe6a6a" stroke-width="2.8" />
<line x1="1283.3" y1="1559.8" x2="1292.5" y2="1559.8" stroke="#fe6a6a" stroke-width="2.8" />
<path d="M1287.9,1547.7 L1293.3,1557.5 L1282.5,1557.5 Z" fill="#fe6a6a" stroke="#fe6a6a" stroke-width="1.5" stroke-linejoin="round"/>
<line x1="1334.8" y1="1457.0" x2="1334.8" y2="1474.0" stroke="#fe6a6a" stroke-width="3.4" />
<line x1="1330.2" y1="1458.2" x2="1339.4" y2="1458.2" stroke="#fe6a6a" stroke-width="2.8" />
<line x1="1330.2" y1="1472.8" x2="1339.4" y2="1472.8" stroke="#fe6a6a" stroke-width="2.8" />
<path d="M1334.8,1459.5 L1340.2,1469.2 L1329.4,1469.2 Z" fill="#fe6a6a" stroke="#fe6a6a" stroke-width="1.5" stroke-linejoin="round"/>
<line x1="1382.5" y1="1357.5" x2="1382.5" y2="1393.1" stroke="#fe6a6a" stroke-width="3.4" />
<line x1="1377.9" y1="1358.7" x2="1387.1" y2="1358.7" stroke="#fe6a6a" stroke-width="2.8" />
<line x1="1377.9" y1="1391.9" x2="1387.1" y2="1391.9" stroke="#fe6a6a" stroke-width="2.8" />
<path d="M1382.5,1372.1 L1387.9,1381.8 L1377.1,1381.8 Z" fill="#fe6a6a" stroke="#fe6a6a" stroke-width="1.5" stroke-linejoin="round"/>
<line x1="1117.8" y1="1839.7" x2="1166.9" y2="1839.7" stroke="#6a768f" stroke-width="4" />
<rect x="1134.3" y="1831.7" width="16.0" height="16.0" fill="#6a768f" rx="2"/>
<line x1="1117.8" y1="1878.0" x2="1166.9" y2="1878.0" stroke="#fe6a6a" stroke-width="4" />
<path d="M1142.3,1869.1 L1150.8,1884.4 L1133.8,1884.4 Z" fill="#fe6a6a" stroke="#fe6a6a" stroke-width="1.5" stroke-linejoin="round"/>
<text x="1187.6" y="1848.5" font-size="27.5" stroke="#231815" stroke-width="0.35">AAV8</text>
<text x="1189.9" y="1886.8" font-size="27.5" stroke="#231815" stroke-width="0.35">AAVv128</text>
<text x="968.5" y="1522.9" font-size="30" text-anchor="middle" stroke="#231815" stroke-width="0.35" textLength="372.0" lengthAdjust="spacingAndGlyphs" transform="rotate(-90 968.5 1522.9)">Relative anti-VEGF protein</text>
<text x="1006.5" y="1525.4" font-size="30" text-anchor="middle" stroke="#231815" stroke-width="0.35" textLength="331.0" lengthAdjust="spacingAndGlyphs" transform="rotate(-90 1006.5 1525.4)">expression level (ng/ml)</text>
<text x="1104.0" y="1737.7" font-size="27.5" text-anchor="end" stroke="#231815" stroke-width="0.35">0</text>
<text x="1101.5" y="1590.0" font-size="27" text-anchor="end" stroke="#231815" stroke-width="0.35">5 × 10<tspan font-size="14.6" dy="-9.1">3</tspan></text>
<text x="1101.5" y="1439.8" font-size="27" text-anchor="end" stroke="#231815" stroke-width="0.35">1 × 10<tspan font-size="14.6" dy="-9.1">4</tspan></text>
<text x="1101.5" y="1286.6" font-size="27" text-anchor="end" stroke="#231815" stroke-width="0.35">1.5 × 10<tspan font-size="14.6" dy="-9.1">4</tspan></text>
<text x="1115.5" y="1668.3" font-size="23.5" text-anchor="middle" stroke="#231815" stroke-width="0.35" textLength="105.6" lengthAdjust="spacingAndGlyphs"><tspan font-style="italic">P</tspan><tspan> =0.5847</tspan></text>
<text x="1148.5" y="1690.2" font-size="27.5" text-anchor="middle" stroke="#231815" stroke-width="0.35" textLength="28.6" lengthAdjust="spacingAndGlyphs">ns</text>
<text x="1172.5" y="1627.0" font-size="23.5" text-anchor="middle" stroke="#231815" stroke-width="0.35" textLength="105.3" lengthAdjust="spacingAndGlyphs"><tspan font-style="italic">P</tspan><tspan> =0.0004</tspan></text>
<text x="1176.9" y="1663.3" font-size="38" text-anchor="middle" font-weight="bold" textLength="44.0" lengthAdjust="spacingAndGlyphs">***</text>
<text x="1226.6" y="1678.9" font-size="23" text-anchor="middle" stroke="#231815" stroke-width="0.35" textLength="44.6" lengthAdjust="spacingAndGlyphs">5.0×</text>
<text x="1211.2" y="1548.4" font-size="23.5" text-anchor="middle" stroke="#231815" stroke-width="0.35" textLength="103.7" lengthAdjust="spacingAndGlyphs"><tspan font-style="italic">P</tspan><tspan> &lt;0.0001</tspan></text>
<text x="1217.0" y="1579.8" font-size="38" text-anchor="middle" font-weight="bold" textLength="58.0" lengthAdjust="spacingAndGlyphs">****</text>
<text x="1274.0" y="1605.9" font-size="23" text-anchor="middle" stroke="#231815" stroke-width="0.35" textLength="45.4" lengthAdjust="spacingAndGlyphs">4.2×</text>
<text x="1253.2" y="1498.5" font-size="23.5" text-anchor="middle" stroke="#231815" stroke-width="0.35" textLength="103.9" lengthAdjust="spacingAndGlyphs"><tspan font-style="italic">P</tspan><tspan> &lt;0.0001</tspan></text>
<text x="1263.9" y="1533.0" font-size="38" text-anchor="middle" font-weight="bold" textLength="58.0" lengthAdjust="spacingAndGlyphs">****</text>
<text x="1324.2" y="1563.7" font-size="23" text-anchor="middle" stroke="#231815" stroke-width="0.35" textLength="44.7" lengthAdjust="spacingAndGlyphs">3.6×</text>
<text x="1295.7" y="1421.9" font-size="23.5" text-anchor="middle" stroke="#231815" stroke-width="0.35" textLength="104.1" lengthAdjust="spacingAndGlyphs"><tspan font-style="italic">P</tspan><tspan> &lt;0.0001</tspan></text>
<text x="1311.3" y="1453.3" font-size="38" text-anchor="middle" font-weight="bold" textLength="58.0" lengthAdjust="spacingAndGlyphs">****</text>
<text x="1371.8" y="1483.2" font-size="23" text-anchor="middle" stroke="#231815" stroke-width="0.35" textLength="45.5" lengthAdjust="spacingAndGlyphs">3.0×</text>
<text x="1387.2" y="1322.2" font-size="23.5" text-anchor="middle" stroke="#231815" stroke-width="0.35" textLength="104.9" lengthAdjust="spacingAndGlyphs"><tspan font-style="italic">P</tspan><tspan> &lt;0.0001</tspan></text>
<text x="1383.5" y="1355.6" font-size="38" text-anchor="middle" font-weight="bold" textLength="58.0" lengthAdjust="spacingAndGlyphs">****</text>
<text x="1414.0" y="1392.4" font-size="23" text-anchor="middle" stroke="#231815" stroke-width="0.35" textLength="45.5" lengthAdjust="spacingAndGlyphs">3.8×</text>
<text x="1510.9" y="1233.3" font-size="47" text-anchor="middle" font-weight="bold" textLength="24.2" lengthAdjust="spacingAndGlyphs">k</text>
<text x="1815.0" y="1277.4" font-size="26" text-anchor="middle" font-weight="bold">ARPE19</text>
<line x1="1629.7" y1="1725.8" x2="1638.2" y2="1725.8" stroke="#050505" stroke-width="2.5" />
<line x1="1629.7" y1="1613.4" x2="1638.2" y2="1613.4" stroke="#050505" stroke-width="2.5" />
<line x1="1629.7" y1="1501.0" x2="1638.2" y2="1501.0" stroke="#050505" stroke-width="2.5" />
<line x1="1629.7" y1="1388.6" x2="1638.2" y2="1388.6" stroke="#050505" stroke-width="2.5" />
<line x1="1629.7" y1="1276.2" x2="1638.2" y2="1276.2" stroke="#050505" stroke-width="2.5" />
<line x1="1638.2" y1="1275.0" x2="1638.2" y2="1727.0" stroke="#050505" stroke-width="2.5" />
<line x1="1629.7" y1="1725.8" x2="1943.0" y2="1725.8" stroke="#050505" stroke-width="2.5" />
<line x1="1670.7" y1="1725.8" x2="1670.7" y2="1742.8" stroke="#050505" stroke-width="2.5" />
<line x1="1718.7" y1="1725.8" x2="1718.7" y2="1742.8" stroke="#050505" stroke-width="2.5" />
<line x1="1766.6" y1="1725.8" x2="1766.6" y2="1742.8" stroke="#050505" stroke-width="2.5" />
<line x1="1814.9" y1="1725.8" x2="1814.9" y2="1742.8" stroke="#050505" stroke-width="2.5" />
<line x1="1862.8" y1="1725.8" x2="1862.8" y2="1742.8" stroke="#050505" stroke-width="2.5" />
<line x1="1910.7" y1="1725.8" x2="1910.7" y2="1742.8" stroke="#050505" stroke-width="2.5" />
<text x="1666.7" y="1775.5" font-size="27.5" text-anchor="middle" stroke="#231815" stroke-width="0.35" textLength="29.5" lengthAdjust="spacingAndGlyphs">16</text>
<text x="1714.7" y="1775.5" font-size="27.5" text-anchor="middle" stroke="#231815" stroke-width="0.35" textLength="29.5" lengthAdjust="spacingAndGlyphs">24</text>
<text x="1762.6" y="1775.5" font-size="27.5" text-anchor="middle" stroke="#231815" stroke-width="0.35" textLength="29.5" lengthAdjust="spacingAndGlyphs">40</text>
<text x="1810.9" y="1775.5" font-size="27.5" text-anchor="middle" stroke="#231815" stroke-width="0.35" textLength="29.5" lengthAdjust="spacingAndGlyphs">48</text>
<text x="1858.8" y="1775.5" font-size="27.5" text-anchor="middle" stroke="#231815" stroke-width="0.35" textLength="29.5" lengthAdjust="spacingAndGlyphs">64</text>
<text x="1906.7" y="1775.5" font-size="27.5" text-anchor="middle" stroke="#231815" stroke-width="0.35" textLength="29.5" lengthAdjust="spacingAndGlyphs">72</text>
<text x="1946.7" y="1775.5" font-size="27.5" text-anchor="middle" stroke="#231815" stroke-width="0.35">h</text>
<path d="M1670.7,1709.4 L1718.7,1687.5 L1766.6,1649.2 L1814.9,1644.2 L1862.8,1635.8 L1910.7,1618.5" fill="none" stroke="#6a768f" stroke-width="4" stroke-linejoin="round"/>
<path d="M1670.7,1692.1 L1718.7,1634.6 L1766.6,1489.7 L1814.9,1469.8 L1862.8,1407.7 L1910.7,1368.2" fill="none" stroke="#fe6a6a" stroke-width="4" stroke-linejoin="round"/>
<rect x="1665.5" y="1700.9" width="10.4" height="17.0" fill="#6a768f" rx="2.6"/>
<rect x="1713.5" y="1679.3" width="10.4" height="16.4" fill="#6a768f" rx="2.6"/>
<rect x="1761.4" y="1640.7" width="10.4" height="17.0" fill="#6a768f" rx="2.6"/>
<rect x="1809.7" y="1635.0" width="10.4" height="18.4" fill="#6a768f" rx="2.6"/>
<rect x="1857.6" y="1626.9" width="10.4" height="17.8" fill="#6a768f" rx="2.6"/>
<rect x="1905.5" y="1607.1" width="10.4" height="22.8" fill="#6a768f" rx="2.6"/>
<line x1="1670.7" y1="1683.0" x2="1670.7" y2="1700.0" stroke="#fe6a6a" stroke-width="3.4" />
<line x1="1666.1" y1="1684.2" x2="1675.3" y2="1684.2" stroke="#fe6a6a" stroke-width="2.8" />
<line x1="1666.1" y1="1698.8" x2="1675.3" y2="1698.8" stroke="#fe6a6a" stroke-width="2.8" />
<path d="M1670.7,1686.4 L1676.1,1696.1 L1665.3,1696.1 Z" fill="#fe6a6a" stroke="#fe6a6a" stroke-width="1.5" stroke-linejoin="round"/>
<line x1="1718.7" y1="1622.0" x2="1718.7" y2="1641.0" stroke="#fe6a6a" stroke-width="3.4" />
<line x1="1714.1" y1="1623.2" x2="1723.3" y2="1623.2" stroke="#fe6a6a" stroke-width="2.8" />
<line x1="1714.1" y1="1639.8" x2="1723.3" y2="1639.8" stroke="#fe6a6a" stroke-width="2.8" />
<path d="M1718.7,1628.9 L1724.1,1638.6 L1713.3,1638.6 Z" fill="#fe6a6a" stroke="#fe6a6a" stroke-width="1.5" stroke-linejoin="round"/>
<line x1="1766.6" y1="1464.0" x2="1766.6" y2="1512.0" stroke="#fe6a6a" stroke-width="3.4" />
<line x1="1762.0" y1="1465.2" x2="1771.2" y2="1465.2" stroke="#fe6a6a" stroke-width="2.8" />
<line x1="1762.0" y1="1510.8" x2="1771.2" y2="1510.8" stroke="#fe6a6a" stroke-width="2.8" />
<path d="M1766.6,1484.0 L1772.0,1493.8 L1761.2,1493.8 Z" fill="#fe6a6a" stroke="#fe6a6a" stroke-width="1.5" stroke-linejoin="round"/>
<line x1="1814.9" y1="1450.6" x2="1814.9" y2="1487.0" stroke="#fe6a6a" stroke-width="3.4" />
<line x1="1810.3" y1="1451.8" x2="1819.5" y2="1451.8" stroke="#fe6a6a" stroke-width="2.8" />
<line x1="1810.3" y1="1485.8" x2="1819.5" y2="1485.8" stroke="#fe6a6a" stroke-width="2.8" />
<path d="M1814.9,1464.1 L1820.3,1473.8 L1809.5,1473.8 Z" fill="#fe6a6a" stroke="#fe6a6a" stroke-width="1.5" stroke-linejoin="round"/>
<line x1="1862.8" y1="1395.0" x2="1862.8" y2="1420.0" stroke="#fe6a6a" stroke-width="3.4" />
<line x1="1858.2" y1="1396.2" x2="1867.4" y2="1396.2" stroke="#fe6a6a" stroke-width="2.8" />
<line x1="1858.2" y1="1418.8" x2="1867.4" y2="1418.8" stroke="#fe6a6a" stroke-width="2.8" />
<path d="M1862.8,1402.0 L1868.2,1411.8 L1857.4,1411.8 Z" fill="#fe6a6a" stroke="#fe6a6a" stroke-width="1.5" stroke-linejoin="round"/>
<line x1="1910.7" y1="1347.0" x2="1910.7" y2="1385.5" stroke="#fe6a6a" stroke-width="3.4" />
<line x1="1906.1" y1="1348.2" x2="1915.3" y2="1348.2" stroke="#fe6a6a" stroke-width="2.8" />
<line x1="1906.1" y1="1384.3" x2="1915.3" y2="1384.3" stroke="#fe6a6a" stroke-width="2.8" />
<path d="M1910.7,1362.5 L1916.1,1372.2 L1905.3,1372.2 Z" fill="#fe6a6a" stroke="#fe6a6a" stroke-width="1.5" stroke-linejoin="round"/>
<line x1="1647.0" y1="1840.4" x2="1694.9" y2="1840.4" stroke="#6a768f" stroke-width="4" />
<rect x="1663.0" y="1832.4" width="16.0" height="16.0" fill="#6a768f" rx="2"/>
<line x1="1647.0" y1="1878.8" x2="1694.9" y2="1878.8" stroke="#fe6a6a" stroke-width="4" />
<path d="M1671.0,1869.9 L1679.5,1885.2 L1662.5,1885.2 Z" fill="#fe6a6a" stroke="#fe6a6a" stroke-width="1.5" stroke-linejoin="round"/>
<text x="1715.2" y="1849.3" font-size="27.5" stroke="#231815" stroke-width="0.35">AAV8</text>
<text x="1717.9" y="1887.6" font-size="27.5" stroke="#231815" stroke-width="0.35">AAVv128</text>
<text x="1488.0" y="1520.5" font-size="30" text-anchor="middle" stroke="#231815" stroke-width="0.35" textLength="372.0" lengthAdjust="spacingAndGlyphs" transform="rotate(-90 1488.0 1520.5)">Relative anti-VEGF protein</text>
<text x="1526.5" y="1523.4" font-size="30" text-anchor="middle" stroke="#231815" stroke-width="0.35" textLength="331.0" lengthAdjust="spacingAndGlyphs" transform="rotate(-90 1526.5 1523.4)">expression level (ng/ml)</text>
<text x="1627.0" y="1735.0" font-size="27.5" text-anchor="end" stroke="#231815" stroke-width="0.35">0</text>
<text x="1625.5" y="1625.0" font-size="27" text-anchor="end" stroke="#231815" stroke-width="0.35">1 × 10<tspan font-size="14.6" dy="-9.1">3</tspan></text>
<text x="1625.5" y="1512.7" font-size="27" text-anchor="end" stroke="#231815" stroke-width="0.35">2 × 10<tspan font-size="14.6" dy="-9.1">3</tspan></text>
<text x="1625.5" y="1400.0" font-size="27" text-anchor="end" stroke="#231815" stroke-width="0.35">3 × 10<tspan font-size="14.6" dy="-9.1">3</tspan></text>
<text x="1625.5" y="1287.2" font-size="27" text-anchor="end" stroke="#231815" stroke-width="0.35">4 × 10<tspan font-size="14.6" dy="-9.1">3</tspan></text>
<text x="1666.7" y="1642.3" font-size="23.5" text-anchor="middle" stroke="#231815" stroke-width="0.35" textLength="106.0" lengthAdjust="spacingAndGlyphs"><tspan font-style="italic">P</tspan><tspan> =0.9362</tspan></text>
<text x="1666.2" y="1665.3" font-size="27.5" text-anchor="middle" stroke="#231815" stroke-width="0.35" textLength="28.5" lengthAdjust="spacingAndGlyphs">ns</text>
<text x="1703.5" y="1585.9" font-size="23.5" text-anchor="middle" stroke="#231815" stroke-width="0.35" textLength="106.8" lengthAdjust="spacingAndGlyphs"><tspan font-style="italic">P</tspan><tspan> =0.0230</tspan></text>
<text x="1711.4" y="1618.9" font-size="38" text-anchor="middle" font-weight="bold">*</text>
<text x="1752.9" y="1632.7" font-size="23" text-anchor="middle" stroke="#231815" stroke-width="0.35" textLength="44.7" lengthAdjust="spacingAndGlyphs">2.4×</text>
<text x="1721.8" y="1439.9" font-size="23.5" text-anchor="middle" stroke="#231815" stroke-width="0.35" textLength="104.9" lengthAdjust="spacingAndGlyphs"><tspan font-style="italic">P</tspan><tspan> &lt;0.0001</tspan></text>
<text x="1762.0" y="1471.7" font-size="38" text-anchor="middle" font-weight="bold" textLength="58.0" lengthAdjust="spacingAndGlyphs">****</text>
<text x="1793.2" y="1530.4" font-size="23" text-anchor="middle" stroke="#231815" stroke-width="0.35" textLength="44.8" lengthAdjust="spacingAndGlyphs">3.1×</text>
<text x="1792.7" y="1406.6" font-size="23.5" text-anchor="middle" stroke="#231815" stroke-width="0.35" textLength="104.9" lengthAdjust="spacingAndGlyphs"><tspan font-style="italic">P</tspan><tspan> &lt;0.0001</tspan></text>
<text x="1808.6" y="1441.8" font-size="38" text-anchor="middle" font-weight="bold" textLength="58.0" lengthAdjust="spacingAndGlyphs">****</text>
<text x="1850.3" y="1497.8" font-size="23" text-anchor="middle" stroke="#231815" stroke-width="0.35" textLength="45.4" lengthAdjust="spacingAndGlyphs">3.1×</text>
<text x="1834.8" y="1360.6" font-size="23.5" text-anchor="middle" stroke="#231815" stroke-width="0.35" textLength="104.9" lengthAdjust="spacingAndGlyphs"><tspan font-style="italic">P</tspan><tspan> &lt;0.0001</tspan></text>
<text x="1846.3" y="1395.8" font-size="38" text-anchor="middle" font-weight="bold" textLength="58.0" lengthAdjust="spacingAndGlyphs">****</text>
<text x="1889.1" y="1437.2" font-size="23" text-anchor="middle" stroke="#231815" stroke-width="0.35" textLength="44.7" lengthAdjust="spacingAndGlyphs">3.5×</text>
<text x="1915.8" y="1314.6" font-size="23.5" text-anchor="middle" stroke="#231815" stroke-width="0.35" textLength="106.1" lengthAdjust="spacingAndGlyphs"><tspan font-style="italic">P</tspan><tspan> &lt;0.0001</tspan></text>
<text x="1912.0" y="1349.0" font-size="38" text-anchor="middle" font-weight="bold" textLength="58.0" lengthAdjust="spacingAndGlyphs">****</text>
<text x="1948.4" y="1387.4" font-size="23" text-anchor="middle" stroke="#231815" stroke-width="0.35" textLength="44.7" lengthAdjust="spacingAndGlyphs">3.3×</text>
<text x="31.2" y="33.5" font-size="47" text-anchor="middle" font-weight="bold" textLength="24.1" lengthAdjust="spacingAndGlyphs">a</text>
<path d="M55,125 C58,115 65,106 77.7,102 C82,100 86,99 88.4,97.8 C88.5,93 89.5,88 91.5,85 C93.5,81 98,78 103.3,77.8 C108,77.5 112,78 113.5,79.5 L114,83 C118,84 120.5,87 119.8,91 C119.5,95 118.5,98 116.5,99 L113.5,101 C111,102 110,104 110.5,106 C111.5,112 112,122 112.5,130 C114,132 116.5,134 117,137 C119,145 122,152 126,158 L137.5,171.5 C138,174 136,176 132,177.5 C125,179.5 115,180.5 105,180.5 C95,181 80,180 70.6,178.3 C62,172 57,165 55,155 C52,145 52,135 55,125 Z" fill="#95918e" />
<path d="M55,125 C52,135 52,145 55,155 C57,165 62,172 70.6,178.3 C80,180 95,181 105,180.5 L105,176.5 C95,177 82,175 74,171 C66,164 60,154 58.5,145 C57.5,138 57.5,130 58.5,124 Z" fill="#7c7976" />
<path d="M12.8,120.9 C22,123 30,128 34,136 C38.5,146 39.5,158 40.6,169.7 C41.5,178 44,185 50,189 C56,192.5 64,193 70,191.5 C75,190 75.5,186 72,183.5 C70,182 68.5,181 68,180" fill="none" stroke="#7b7a79" stroke-width="4.2" stroke-linecap="round"/>
<path d="M97.6,119 C95,126 92,133 90.5,141" fill="none" stroke="#7a7876" stroke-width="2.2" />
<path d="M88.4,115.6 C87,124 86,133 85.5,141" fill="none" stroke="#807d7a" stroke-width="1.6" />
<path d="M72.7,132.7 C70,140 71,150 77.7,155.5" fill="none" stroke="#b2b2b4" stroke-width="3" />
<path d="M74.8,167.6 C84,169 95,163 100.5,154.1" fill="none" stroke="#b2b2b4" stroke-width="3" />
<path d="M111.5,140 C112,150 110,165 108,178" fill="none" stroke="#7e7b79" stroke-width="1.4" />
<path d="M114.7,164 L126.8,160.5 L134.7,171.2 L137.5,172.6 L135.4,176.9 L124,179.7 L111.2,179 L114,169.7 Z" fill="#4a4745" />
<path d="M108.3,84.2 C110,83 112,83 113.3,83.5 C116,85 119,86.5 119.4,89.5 C120,92 119.8,95 119.2,96.5 C118.5,98 117.5,98.8 116.6,98.6 C114.5,98.3 113,97.5 112.2,96.5 C111,94.5 110.5,92.5 110.4,91 C110,89 109,86.5 108.3,84.2 Z" fill="#d69d86" />
<ellipse cx="95.8" cy="92.3" rx="3.1" ry="4.6" fill="#c98f78"/>
<circle cx="110.4" cy="85.1" r="0.9" fill="#5a3a2a" />
<line x1="127.0" y1="133.6" x2="149.0" y2="133.6" stroke="#231815" stroke-width="2.2" />
<path d="M156.0,133.6 L148.0,129.4 L148.0,137.8 Z" fill="#231815" />
<path d="M165.1,100.1 V173.2 A10.9,10.9 0 0 0 186.9,173.2 V100.1 Z" fill="#fbfbf6" stroke="#2e2624" stroke-width="1.7" />
<path d="M167.7,103.1 V173.2 A8.3,8.3 0 0 0 184.3,173.2 V103.1 Z" fill="url(#tubeg)" stroke="#2e2624" stroke-width="1.3" />
<path d="M183.8,151.5 C179.0,155.5 177.0,162.5 174.0,165.5 C172.0,167.5 171.5,169.5 171.5,173.5 L170.5,178.0 A7.800000000000001,7.800000000000001 0 0 0 183.8,173.2 Z" fill="#cc0033" />
<ellipse cx="176.0" cy="100.1" rx="13" ry="3.6" fill="#fdfdfb" stroke="#3a302c" stroke-width="1.4"/>
<ellipse cx="176.0" cy="100.7" rx="9.5" ry="2.2" fill="#fdfdfb" stroke="#3a302c" stroke-width="1.1"/>
<path d="M199.3,100.1 V173.2 A10.9,10.9 0 0 0 221.1,173.2 V100.1 Z" fill="#fbfbf6" stroke="#2e2624" stroke-width="1.7" />
<path d="M201.9,103.1 V173.2 A8.3,8.3 0 0 0 218.5,173.2 V103.1 Z" fill="url(#tubeg)" stroke="#2e2624" stroke-width="1.3" />
<path d="M218.0,151.5 C213.2,155.5 211.2,162.5 208.2,165.5 C206.2,167.5 205.7,169.5 205.7,173.5 L204.7,178.0 A7.800000000000001,7.800000000000001 0 0 0 218.0,173.2 Z" fill="#cc0033" />
<ellipse cx="210.2" cy="100.1" rx="13" ry="3.6" fill="#fdfdfb" stroke="#3a302c" stroke-width="1.4"/>
<ellipse cx="210.2" cy="100.7" rx="9.5" ry="2.2" fill="#fdfdfb" stroke="#3a302c" stroke-width="1.1"/>
<path d="M233.5,100.1 V173.2 A10.9,10.9 0 0 0 255.3,173.2 V100.1 Z" fill="#fbfbf6" stroke="#2e2624" stroke-width="1.7" />
<path d="M236.1,103.1 V173.2 A8.3,8.3 0 0 0 252.7,173.2 V103.1 Z" fill="url(#tubeg)" stroke="#2e2624" stroke-width="1.3" />
<path d="M252.2,151.5 C247.4,155.5 245.4,162.5 242.4,165.5 C240.4,167.5 239.9,169.5 239.9,173.5 L238.9,178.0 A7.800000000000001,7.800000000000001 0 0 0 252.2,173.2 Z" fill="#cc0033" />
<ellipse cx="244.4" cy="100.1" rx="13" ry="3.6" fill="#fdfdfb" stroke="#3a302c" stroke-width="1.4"/>
<ellipse cx="244.4" cy="100.7" rx="9.5" ry="2.2" fill="#fdfdfb" stroke="#3a302c" stroke-width="1.1"/>
<path d="M267.7,100.1 V173.2 A10.9,10.9 0 0 0 289.5,173.2 V100.1 Z" fill="#fbfbf6" stroke="#2e2624" stroke-width="1.7" />
<path d="M270.3,103.1 V173.2 A8.3,8.3 0 0 0 286.9,173.2 V103.1 Z" fill="url(#tubeg)" stroke="#2e2624" stroke-width="1.3" />
<path d="M286.4,151.5 C281.6,155.5 279.6,162.5 276.6,165.5 C274.6,167.5 274.1,169.5 274.1,173.5 L273.1,178.0 A7.800000000000001,7.800000000000001 0 0 0 286.4,173.2 Z" fill="#cc0033" />
<ellipse cx="278.6" cy="100.1" rx="13" ry="3.6" fill="#fdfdfb" stroke="#3a302c" stroke-width="1.4"/>
<ellipse cx="278.6" cy="100.7" rx="9.5" ry="2.2" fill="#fdfdfb" stroke="#3a302c" stroke-width="1.1"/>
<path d="M168.0,186.7 Q168.0,192.2 176.0,192.2 H222.2 Q228.2,192.2 228.2,196.7 Q228.2,192.2 234.2,192.2 H280.5 Q288.5,192.2 288.5,186.7" fill="none" stroke="#231815" stroke-width="2.2" />
<text x="225.6" y="211.0" font-size="18.6" text-anchor="middle" stroke="#231815" stroke-width="0.35" textLength="55.1" lengthAdjust="spacingAndGlyphs">Serum</text>
<path d="M359.6,56.8 L378.7,66.4 L378.7,92.4 L359.6,102.0 L340.6,92.4 L340.6,66.4 Z" fill="#d4dc6b" stroke="#676526" stroke-width="3.9" stroke-linejoin="miter"/>
<path d="M359.6,57.1 L359.6,64.9 M341.7,67.1 L359.6,64.9 M377.5,67.1 L359.6,64.9 M359.6,64.9 L347.4,86.8 M359.6,64.9 L371.8,87.0 M347.4,86.8 L371.8,87.0 M341.7,67.1 L347.4,86.8 M377.5,67.1 L371.8,87.0 M347.4,86.8 L341.7,91.7 M371.8,87.0 L377.5,91.7 M347.4,86.8 L359.6,100.5 M371.8,87.0 L359.6,100.5" fill="none" stroke="#676526" stroke-width="1.75" stroke-linecap="round"/>
<text x="363.7" y="123.4" font-size="18.6" text-anchor="middle" fill="#d3dc6c" stroke="#d3dc6c" stroke-width="0.35" textLength="141.5" lengthAdjust="spacingAndGlyphs">AAV8-Luciferase</text>
<line x1="294.7" y1="134.5" x2="422.8" y2="134.5" stroke="#231815" stroke-width="2.2" />
<path d="M429.8,134.5 L421.8,130.3 L421.8,138.7 Z" fill="#231815" />
<path d="M448.6,34.3 Q441.6,34.3 441.6,46.3 V125.5 Q441.6,134.5 433.0,134.5 Q441.6,134.5 441.6,143.5 V222.0 Q441.6,234.0 448.6,234.0" fill="none" stroke="#231815" stroke-width="2.2" />
<path d="M565.3,34.3 Q572.5,34.3 572.5,46.3 V125.5 Q572.5,134.5 581.3,134.5 Q572.5,134.5 572.5,143.5 V222.0 Q572.5,234.0 565.3,234.0" fill="none" stroke="#231815" stroke-width="2.2" />
<path d="M478.0,24.8 V96.4 A10.9,10.9 0 0 0 499.8,96.4 V24.8 Z" fill="#fbfbf6" stroke="#2e2624" stroke-width="1.7" />
<path d="M480.6,27.8 V96.4 A8.3,8.3 0 0 0 497.2,96.4 V27.8 Z" fill="url(#tubeg)" stroke="#2e2624" stroke-width="1.3" />
<path d="M496.7,74.7 C491.9,78.7 489.9,85.7 486.9,88.7 C484.9,90.7 484.4,92.7 484.4,96.7 L483.4,101.2 A7.800000000000001,7.800000000000001 0 0 0 496.7,96.4 Z" fill="#cc0033" />
<ellipse cx="488.9" cy="24.8" rx="13" ry="3.6" fill="#fdfdfb" stroke="#3a302c" stroke-width="1.4"/>
<ellipse cx="488.9" cy="25.4" rx="9.5" ry="2.2" fill="#fdfdfb" stroke="#3a302c" stroke-width="1.1"/>
<path d="M478.0,140.9 V212.7 A10.9,10.9 0 0 0 499.8,212.7 V140.9 Z" fill="#fbfbf6" stroke="#2e2624" stroke-width="1.7" />
<path d="M480.6,143.9 V212.7 A8.3,8.3 0 0 0 497.2,212.7 V143.9 Z" fill="url(#tubeg)" stroke="#2e2624" stroke-width="1.3" />
<path d="M496.7,191.0 C491.9,195.0 489.9,202.0 486.9,205.0 C484.9,207.0 484.4,209.0 484.4,213.0 L483.4,217.5 A7.800000000000001,7.800000000000001 0 0 0 496.7,212.7 Z" fill="#cc0033" />
<ellipse cx="488.9" cy="140.9" rx="13" ry="3.6" fill="#fdfdfb" stroke="#3a302c" stroke-width="1.4"/>
<ellipse cx="488.9" cy="141.5" rx="9.5" ry="2.2" fill="#fdfdfb" stroke="#3a302c" stroke-width="1.1"/>
<path d="M520.3,24.8 V96.4 A10.9,10.9 0 0 0 542.1,96.4 V24.8 Z" fill="#fbfbf6" stroke="#2e2624" stroke-width="1.7" />
<path d="M522.9,27.8 V96.4 A8.3,8.3 0 0 0 539.5,96.4 V27.8 Z" fill="url(#tubeg)" stroke="#2e2624" stroke-width="1.3" />
<path d="M539.0,74.7 C534.2,78.7 532.2,85.7 529.2,88.7 C527.2,90.7 526.7,92.7 526.7,96.7 L525.7,101.2 A7.800000000000001,7.800000000000001 0 0 0 539.0,96.4 Z" fill="#cc0033" />
<ellipse cx="531.2" cy="24.8" rx="13" ry="3.6" fill="#fdfdfb" stroke="#3a302c" stroke-width="1.4"/>
<ellipse cx="531.2" cy="25.4" rx="9.5" ry="2.2" fill="#fdfdfb" stroke="#3a302c" stroke-width="1.1"/>
<path d="M520.3,140.9 V212.7 A10.9,10.9 0 0 0 542.1,212.7 V140.9 Z" fill="#fbfbf6" stroke="#2e2624" stroke-width="1.7" />
<path d="M522.9,143.9 V212.7 A8.3,8.3 0 0 0 539.5,212.7 V143.9 Z" fill="url(#tubeg)" stroke="#2e2624" stroke-width="1.3" />
<path d="M539.0,191.0 C534.2,195.0 532.2,202.0 529.2,205.0 C527.2,207.0 526.7,209.0 526.7,213.0 L525.7,217.5 A7.800000000000001,7.800000000000001 0 0 0 539.0,212.7 Z" fill="#cc0033" />
<ellipse cx="531.2" cy="140.9" rx="13" ry="3.6" fill="#fdfdfb" stroke="#3a302c" stroke-width="1.4"/>
<ellipse cx="531.2" cy="141.5" rx="9.5" ry="2.2" fill="#fdfdfb" stroke="#3a302c" stroke-width="1.1"/>
<text x="508.8" y="124.2" font-size="18.6" text-anchor="middle" stroke="#231815" stroke-width="0.35" textLength="121.3" lengthAdjust="spacingAndGlyphs">AAV8-Positive</text>
<text x="506.0" y="252.0" font-size="18.6" text-anchor="middle" stroke="#231815" stroke-width="0.35" textLength="128.9" lengthAdjust="spacingAndGlyphs">AAV8-Negative</text>
<text x="761.5" y="26.0" font-size="18.6" text-anchor="middle" stroke="#231815" stroke-width="0.35" textLength="306.2" lengthAdjust="spacingAndGlyphs">(1:2, 1:10, 1:50, 1:100, 1:250, 1:500,</text>
<text x="763.8" y="48.5" font-size="18.6" text-anchor="middle" stroke="#231815" stroke-width="0.35" textLength="316.9" lengthAdjust="spacingAndGlyphs">1:1000, 1:2500, 1:5000, and 1:10000)</text>
<path d="M652.4,58.5 L671.8,67.8 L671.8,93.2 L652.4,102.5 L633.0,93.2 L633.0,67.8 Z" fill="#f58f8b" stroke="#9d4a40" stroke-width="3.9" stroke-linejoin="miter"/>
<path d="M652.4,58.8 L652.4,66.3 M634.1,68.5 L652.4,66.3 M670.7,68.5 L652.4,66.3 M652.4,66.3 L640.0,87.7 M652.4,66.3 L664.8,87.9 M640.0,87.7 L664.8,87.9 M634.1,68.5 L640.0,87.7 M670.7,68.5 L664.8,87.9 M640.0,87.7 L634.1,92.5 M664.8,87.9 L670.7,92.5 M640.0,87.7 L652.4,101.0 M664.8,87.9 L652.4,101.0" fill="none" stroke="#9d4a40" stroke-width="1.75" stroke-linecap="round"/>
<text x="662.0" y="118.3" font-size="18.6" text-anchor="middle" fill="#b5494f" stroke="#b5494f" stroke-width="0.35" textLength="172.8" lengthAdjust="spacingAndGlyphs">AAVv128-Luciferase</text>
<line x1="583.7" y1="134.4" x2="734.0" y2="134.4" stroke="#231815" stroke-width="2.2" />
<path d="M741.0,134.4 L733.0,130.2 L733.0,138.6 Z" fill="#231815" />
<text x="657.4" y="158.8" font-size="18.6" text-anchor="middle" stroke="#231815" stroke-width="0.35" textLength="117.7" lengthAdjust="spacingAndGlyphs">Incubation 1 h</text>
<path d="M748.5,118.7 L773.3,141.3 L851.8,122.1 L851.8,132.1 L773.3,152.3 L747,129 Z" fill="#f1e9e9" stroke="#111" stroke-width="1.6" stroke-linejoin="round"/>
<path d="M747.6,125.5 L773.3,147.6 L851.8,128.6" fill="none" stroke="#111" stroke-width="1.3" />
<line x1="773.3" y1="141.3" x2="773.3" y2="152.3" stroke="#111" stroke-width="1.6" />
<path d="M748.5,118.7 L822.1,99.2 L851.8,122.1 L773.3,141.3 Z" fill="#e3ecea" stroke="#3a3a3a" stroke-width="1.2" stroke-linejoin="round"/>
<path d="M755.4,119.8 L822.8,102.1 L847.4,121.1 L776.3,138.6 Z" fill="#aaa4a3" />
<ellipse cx="759.5" cy="120.2" rx="1.8" ry="1.2" fill="#e8aba3"/><ellipse cx="763.7" cy="120.7" rx="0.9" ry="0.6" fill="#f4f4f4"/><ellipse cx="762.2" cy="122.6" rx="1.8" ry="1.2" fill="#e8aba3"/><ellipse cx="766.3" cy="123.0" rx="0.9" ry="0.6" fill="#f4f4f4"/><ellipse cx="764.8" cy="124.9" rx="1.8" ry="1.2" fill="#e8aba3"/><ellipse cx="769.0" cy="125.4" rx="0.9" ry="0.6" fill="#f4f4f4"/><ellipse cx="767.4" cy="127.3" rx="1.8" ry="1.2" fill="#e8aba3"/><ellipse cx="771.6" cy="127.7" rx="0.9" ry="0.6" fill="#f4f4f4"/><ellipse cx="770.0" cy="129.6" rx="1.8" ry="1.2" fill="#e8aba3"/><ellipse cx="774.3" cy="130.1" rx="0.9" ry="0.6" fill="#f4f4f4"/><ellipse cx="772.7" cy="132.0" rx="1.8" ry="1.2" fill="#e8aba3"/><ellipse cx="776.9" cy="132.4" rx="0.9" ry="0.6" fill="#f4f4f4"/><ellipse cx="775.3" cy="134.3" rx="1.8" ry="1.2" fill="#e8aba3"/><ellipse cx="779.5" cy="134.8" rx="0.9" ry="0.6" fill="#f4f4f4"/><ellipse cx="777.9" cy="136.7" rx="1.8" ry="1.2" fill="#e8aba3"/><ellipse cx="765.2" cy="118.8" rx="1.8" ry="1.2" fill="#e8aba3"/><ellipse cx="769.3" cy="119.2" rx="0.9" ry="0.6" fill="#f4f4f4"/><ellipse cx="767.8" cy="121.1" rx="1.8" ry="1.2" fill="#e8aba3"/><ellipse cx="772.0" cy="121.5" rx="0.9" ry="0.6" fill="#f4f4f4"/><ellipse cx="770.5" cy="123.5" rx="1.8" ry="1.2" fill="#e8aba3"/><ellipse cx="774.7" cy="123.9" rx="0.9" ry="0.6" fill="#f4f4f4"/><ellipse cx="773.2" cy="125.8" rx="1.8" ry="1.2" fill="#e8aba3"/><ellipse cx="777.4" cy="126.2" rx="0.9" ry="0.6" fill="#f4f4f4"/><ellipse cx="775.8" cy="128.2" rx="1.8" ry="1.2" fill="#e8aba3"/><ellipse cx="780.1" cy="128.6" rx="0.9" ry="0.6" fill="#f4f4f4"/><ellipse cx="778.5" cy="130.5" rx="1.8" ry="1.2" fill="#e8aba3"/><ellipse cx="782.7" cy="130.9" rx="0.9" ry="0.6" fill="#f4f4f4"/><ellipse cx="781.2" cy="132.9" rx="1.8" ry="1.2" fill="#e8aba3"/><ellipse cx="785.4" cy="133.3" rx="0.9" ry="0.6" fill="#f4f4f4"/><ellipse cx="783.8" cy="135.2" rx="1.8" ry="1.2" fill="#e8aba3"/><ellipse cx="770.8" cy="117.3" rx="1.8" ry="1.2" fill="#e8aba3"/><ellipse cx="775.0" cy="117.7" rx="0.9" ry="0.6" fill="#f4f4f4"/><ellipse cx="773.5" cy="119.6" rx="1.8" ry="1.2" fill="#e8aba3"/><ellipse cx="777.7" cy="120.1" rx="0.9" ry="0.6" fill="#f4f4f4"/><ellipse cx="776.2" cy="122.0" rx="1.8" ry="1.2" fill="#e8aba3"/><ellipse cx="780.4" cy="122.4" rx="0.9" ry="0.6" fill="#f4f4f4"/><ellipse cx="778.9" cy="124.3" rx="1.8" ry="1.2" fill="#e8aba3"/><ellipse cx="783.2" cy="124.8" rx="0.9" ry="0.6" fill="#f4f4f4"/><ellipse cx="781.6" cy="126.7" rx="1.8" ry="1.2" fill="#e8aba3"/><ellipse cx="785.9" cy="127.1" rx="0.9" ry="0.6" fill="#f4f4f4"/><ellipse cx="784.3" cy="129.0" rx="1.8" ry="1.2" fill="#e8aba3"/><ellipse cx="788.6" cy="129.5" rx="0.9" ry="0.6" fill="#f4f4f4"/><ellipse cx="787.0" cy="131.4" rx="1.8" ry="1.2" fill="#e8aba3"/><ellipse cx="791.3" cy="131.8" rx="0.9" ry="0.6" fill="#f4f4f4"/><ellipse cx="789.7" cy="133.7" rx="1.8" ry="1.2" fill="#e8aba3"/><ellipse cx="776.5" cy="115.8" rx="1.8" ry="1.2" fill="#e8aba3"/><ellipse cx="780.7" cy="116.2" rx="0.9" ry="0.6" fill="#f4f4f4"/><ellipse cx="779.2" cy="118.2" rx="1.8" ry="1.2" fill="#e8aba3"/><ellipse cx="783.4" cy="118.6" rx="0.9" ry="0.6" fill="#f4f4f4"/><ellipse cx="781.9" cy="120.5" rx="1.8" ry="1.2" fill="#e8aba3"/><ellipse cx="786.2" cy="121.0" rx="0.9" ry="0.6" fill="#f4f4f4"/><ellipse cx="784.7" cy="122.9" rx="1.8" ry="1.2" fill="#e8aba3"/><ellipse cx="788.9" cy="123.3" rx="0.9" ry="0.6" fill="#f4f4f4"/><ellipse cx="787.4" cy="125.2" rx="1.8" ry="1.2" fill="#e8aba3"/><ellipse cx="791.7" cy="125.7" rx="0.9" ry="0.6" fill="#f4f4f4"/><ellipse cx="790.2" cy="127.6" rx="1.8" ry="1.2" fill="#e8aba3"/><ellipse cx="794.4" cy="128.0" rx="0.9" ry="0.6" fill="#f4f4f4"/><ellipse cx="792.9" cy="129.9" rx="1.8" ry="1.2" fill="#e8aba3"/><ellipse cx="797.2" cy="130.4" rx="0.9" ry="0.6" fill="#f4f4f4"/><ellipse cx="795.6" cy="132.3" rx="1.8" ry="1.2" fill="#e8aba3"/><ellipse cx="782.1" cy="114.3" rx="1.8" ry="1.2" fill="#e8aba3"/><ellipse cx="786.3" cy="114.8" rx="0.9" ry="0.6" fill="#f4f4f4"/><ellipse cx="784.9" cy="116.7" rx="1.8" ry="1.2" fill="#e8aba3"/><ellipse cx="789.1" cy="117.1" rx="0.9" ry="0.6" fill="#f4f4f4"/><ellipse cx="787.7" cy="119.0" rx="1.8" ry="1.2" fill="#e8aba3"/><ellipse cx="791.9" cy="119.5" rx="0.9" ry="0.6" fill="#f4f4f4"/><ellipse cx="790.4" cy="121.4" rx="1.8" ry="1.2" fill="#e8aba3"/><ellipse cx="794.7" cy="121.8" rx="0.9" ry="0.6" fill="#f4f4f4"/><ellipse cx="793.2" cy="123.8" rx="1.8" ry="1.2" fill="#e8aba3"/><ellipse cx="797.5" cy="124.2" rx="0.9" ry="0.6" fill="#f4f4f4"/><ellipse cx="796.0" cy="126.1" rx="1.8" ry="1.2" fill="#e8aba3"/><ellipse cx="800.3" cy="126.6" rx="0.9" ry="0.6" fill="#f4f4f4"/><ellipse cx="798.8" cy="128.5" rx="1.8" ry="1.2" fill="#e8aba3"/><ellipse cx="803.1" cy="128.9" rx="0.9" ry="0.6" fill="#f4f4f4"/><ellipse cx="801.5" cy="130.8" rx="1.8" ry="1.2" fill="#e8aba3"/><ellipse cx="787.7" cy="112.9" rx="1.8" ry="1.2" fill="#e8aba3"/><ellipse cx="792.0" cy="113.3" rx="0.9" ry="0.6" fill="#f4f4f4"/><ellipse cx="790.6" cy="115.2" rx="1.8" ry="1.2" fill="#e8aba3"/><ellipse cx="794.8" cy="115.7" rx="0.9" ry="0.6" fill="#f4f4f4"/><ellipse cx="793.4" cy="117.6" rx="1.8" ry="1.2" fill="#e8aba3"/><ellipse cx="797.6" cy="118.0" rx="0.9" ry="0.6" fill="#f4f4f4"/><ellipse cx="796.2" cy="119.9" rx="1.8" ry="1.2" fill="#e8aba3"/><ellipse cx="800.5" cy="120.4" rx="0.9" ry="0.6" fill="#f4f4f4"/><ellipse cx="799.0" cy="122.3" rx="1.8" ry="1.2" fill="#e8aba3"/><ellipse cx="803.3" cy="122.7" rx="0.9" ry="0.6" fill="#f4f4f4"/><ellipse cx="801.8" cy="124.6" rx="1.8" ry="1.2" fill="#e8aba3"/><ellipse cx="806.1" cy="125.1" rx="0.9" ry="0.6" fill="#f4f4f4"/><ellipse cx="804.6" cy="127.0" rx="1.8" ry="1.2" fill="#e8aba3"/><ellipse cx="809.0" cy="127.5" rx="0.9" ry="0.6" fill="#f4f4f4"/><ellipse cx="807.4" cy="129.4" rx="1.8" ry="1.2" fill="#e8aba3"/><ellipse cx="793.4" cy="111.4" rx="1.8" ry="1.2" fill="#e8aba3"/><ellipse cx="797.6" cy="111.8" rx="0.9" ry="0.6" fill="#f4f4f4"/><ellipse cx="796.2" cy="113.7" rx="1.8" ry="1.2" fill="#e8aba3"/><ellipse cx="800.5" cy="114.2" rx="0.9" ry="0.6" fill="#f4f4f4"/><ellipse cx="799.1" cy="116.1" rx="1.8" ry="1.2" fill="#e8aba3"/><ellipse cx="803.4" cy="116.5" rx="0.9" ry="0.6" fill="#f4f4f4"/><ellipse cx="801.9" cy="118.5" rx="1.8" ry="1.2" fill="#e8aba3"/><ellipse cx="806.2" cy="118.9" rx="0.9" ry="0.6" fill="#f4f4f4"/><ellipse cx="804.8" cy="120.8" rx="1.8" ry="1.2" fill="#e8aba3"/><ellipse cx="809.1" cy="121.3" rx="0.9" ry="0.6" fill="#f4f4f4"/><ellipse cx="807.6" cy="123.2" rx="1.8" ry="1.2" fill="#e8aba3"/><ellipse cx="812.0" cy="123.6" rx="0.9" ry="0.6" fill="#f4f4f4"/><ellipse cx="810.5" cy="125.5" rx="1.8" ry="1.2" fill="#e8aba3"/><ellipse cx="814.9" cy="126.0" rx="0.9" ry="0.6" fill="#f4f4f4"/><ellipse cx="813.4" cy="127.9" rx="1.8" ry="1.2" fill="#e8aba3"/><ellipse cx="799.0" cy="109.9" rx="1.8" ry="1.2" fill="#e8aba3"/><ellipse cx="803.3" cy="110.3" rx="0.9" ry="0.6" fill="#f4f4f4"/><ellipse cx="801.9" cy="112.3" rx="1.8" ry="1.2" fill="#e8aba3"/><ellipse cx="806.2" cy="112.7" rx="0.9" ry="0.6" fill="#f4f4f4"/><ellipse cx="804.8" cy="114.6" rx="1.8" ry="1.2" fill="#e8aba3"/><ellipse cx="809.1" cy="115.1" rx="0.9" ry="0.6" fill="#f4f4f4"/><ellipse cx="807.7" cy="117.0" rx="1.8" ry="1.2" fill="#e8aba3"/><ellipse cx="812.0" cy="117.4" rx="0.9" ry="0.6" fill="#f4f4f4"/><ellipse cx="810.6" cy="119.4" rx="1.8" ry="1.2" fill="#e8aba3"/><ellipse cx="814.9" cy="119.8" rx="0.9" ry="0.6" fill="#f4f4f4"/><ellipse cx="813.5" cy="121.7" rx="1.8" ry="1.2" fill="#e8aba3"/><ellipse cx="817.8" cy="122.2" rx="0.9" ry="0.6" fill="#f4f4f4"/><ellipse cx="816.4" cy="124.1" rx="1.8" ry="1.2" fill="#e8aba3"/><ellipse cx="820.8" cy="124.5" rx="0.9" ry="0.6" fill="#f4f4f4"/><ellipse cx="819.3" cy="126.5" rx="1.8" ry="1.2" fill="#e8aba3"/><ellipse cx="804.6" cy="108.4" rx="1.8" ry="1.2" fill="#e8aba3"/><ellipse cx="808.9" cy="108.9" rx="0.9" ry="0.6" fill="#f4f4f4"/><ellipse cx="807.6" cy="110.8" rx="1.8" ry="1.2" fill="#e8aba3"/><ellipse cx="811.9" cy="111.2" rx="0.9" ry="0.6" fill="#f4f4f4"/><ellipse cx="810.5" cy="113.2" rx="1.8" ry="1.2" fill="#e8aba3"/><ellipse cx="814.8" cy="113.6" rx="0.9" ry="0.6" fill="#f4f4f4"/><ellipse cx="813.4" cy="115.5" rx="1.8" ry="1.2" fill="#e8aba3"/><ellipse cx="817.8" cy="116.0" rx="0.9" ry="0.6" fill="#f4f4f4"/><ellipse cx="816.4" cy="117.9" rx="1.8" ry="1.2" fill="#e8aba3"/><ellipse cx="820.7" cy="118.3" rx="0.9" ry="0.6" fill="#f4f4f4"/><ellipse cx="819.3" cy="120.3" rx="1.8" ry="1.2" fill="#e8aba3"/><ellipse cx="823.7" cy="120.7" rx="0.9" ry="0.6" fill="#f4f4f4"/><ellipse cx="822.2" cy="122.6" rx="1.8" ry="1.2" fill="#e8aba3"/><ellipse cx="826.6" cy="123.1" rx="0.9" ry="0.6" fill="#f4f4f4"/><ellipse cx="825.2" cy="125.0" rx="1.8" ry="1.2" fill="#e8aba3"/><ellipse cx="810.3" cy="106.9" rx="1.8" ry="1.2" fill="#e8aba3"/><ellipse cx="814.6" cy="107.4" rx="0.9" ry="0.6" fill="#f4f4f4"/><ellipse cx="813.3" cy="109.3" rx="1.8" ry="1.2" fill="#e8aba3"/><ellipse cx="817.6" cy="109.8" rx="0.9" ry="0.6" fill="#f4f4f4"/><ellipse cx="816.2" cy="111.7" rx="1.8" ry="1.2" fill="#e8aba3"/><ellipse cx="820.6" cy="112.1" rx="0.9" ry="0.6" fill="#f4f4f4"/><ellipse cx="819.2" cy="114.1" rx="1.8" ry="1.2" fill="#e8aba3"/><ellipse cx="823.6" cy="114.5" rx="0.9" ry="0.6" fill="#f4f4f4"/><ellipse cx="822.2" cy="116.4" rx="1.8" ry="1.2" fill="#e8aba3"/><ellipse cx="826.6" cy="116.9" rx="0.9" ry="0.6" fill="#f4f4f4"/><ellipse cx="825.1" cy="118.8" rx="1.8" ry="1.2" fill="#e8aba3"/><ellipse cx="829.5" cy="119.2" rx="0.9" ry="0.6" fill="#f4f4f4"/><ellipse cx="828.1" cy="121.2" rx="1.8" ry="1.2" fill="#e8aba3"/><ellipse cx="832.5" cy="121.6" rx="0.9" ry="0.6" fill="#f4f4f4"/><ellipse cx="831.1" cy="123.5" rx="1.8" ry="1.2" fill="#e8aba3"/><ellipse cx="815.9" cy="105.5" rx="1.8" ry="1.2" fill="#e8aba3"/><ellipse cx="820.3" cy="105.9" rx="0.9" ry="0.6" fill="#f4f4f4"/><ellipse cx="818.9" cy="107.8" rx="1.8" ry="1.2" fill="#e8aba3"/><ellipse cx="823.3" cy="108.3" rx="0.9" ry="0.6" fill="#f4f4f4"/><ellipse cx="821.9" cy="110.2" rx="1.8" ry="1.2" fill="#e8aba3"/><ellipse cx="826.3" cy="110.7" rx="0.9" ry="0.6" fill="#f4f4f4"/><ellipse cx="824.9" cy="112.6" rx="1.8" ry="1.2" fill="#e8aba3"/><ellipse cx="829.3" cy="113.0" rx="0.9" ry="0.6" fill="#f4f4f4"/><ellipse cx="828.0" cy="115.0" rx="1.8" ry="1.2" fill="#e8aba3"/><ellipse cx="832.4" cy="115.4" rx="0.9" ry="0.6" fill="#f4f4f4"/><ellipse cx="831.0" cy="117.3" rx="1.8" ry="1.2" fill="#e8aba3"/><ellipse cx="835.4" cy="117.8" rx="0.9" ry="0.6" fill="#f4f4f4"/><ellipse cx="834.0" cy="119.7" rx="1.8" ry="1.2" fill="#e8aba3"/><ellipse cx="838.4" cy="120.2" rx="0.9" ry="0.6" fill="#f4f4f4"/><ellipse cx="837.0" cy="122.1" rx="1.8" ry="1.2" fill="#e8aba3"/><ellipse cx="821.6" cy="104.0" rx="1.8" ry="1.2" fill="#e8aba3"/><ellipse cx="824.6" cy="106.4" rx="1.8" ry="1.2" fill="#e8aba3"/><ellipse cx="827.7" cy="108.7" rx="1.8" ry="1.2" fill="#e8aba3"/><ellipse cx="830.7" cy="111.1" rx="1.8" ry="1.2" fill="#e8aba3"/><ellipse cx="833.7" cy="113.5" rx="1.8" ry="1.2" fill="#e8aba3"/><ellipse cx="836.8" cy="115.9" rx="1.8" ry="1.2" fill="#e8aba3"/><ellipse cx="839.8" cy="118.2" rx="1.8" ry="1.2" fill="#e8aba3"/><ellipse cx="842.9" cy="120.6" rx="1.8" ry="1.2" fill="#e8aba3"/>
<text x="803.5" y="175.6" font-size="18.6" text-anchor="middle" stroke="#231815" stroke-width="0.35" textLength="115.9" lengthAdjust="spacingAndGlyphs">ARPE19 cells</text>
<text x="917.2" y="129.0" font-size="18.6" text-anchor="middle" stroke="#231815" stroke-width="0.35" textLength="109.3" lengthAdjust="spacingAndGlyphs">Transduction</text>
<line x1="858.4" y1="136.3" x2="998.0" y2="136.3" stroke="#231815" stroke-width="2.2" />
<path d="M1005.0,136.3 L997.0,132.1 L997.0,140.5 Z" fill="#231815" />
<text x="918.5" y="156.5" font-size="18.6" text-anchor="middle" stroke="#231815" stroke-width="0.35" textLength="35.9" lengthAdjust="spacingAndGlyphs">24 h</text>
<defs><linearGradient id="blueg" x1="0" y1="0" x2="0" y2="1"><stop offset="0" stop-color="#9aa2b8"/><stop offset="0.45" stop-color="#4a5d8c"/><stop offset="1" stop-color="#22386a"/></linearGradient><linearGradient id="frontg" x1="0" y1="0" x2="0" y2="1"><stop offset="0" stop-color="#ffffff"/><stop offset="0.55" stop-color="#fdfdfd"/><stop offset="0.62" stop-color="#f3f3f3"/><stop offset="1" stop-color="#f6f6f6"/></linearGradient></defs>
<path d="M1028.3,41.3 Q1070,38 1117.1,43.2 L1098,48.4 L1027,45.5 Z" fill="#dedede" />
<path d="M1098,48.4 L1117.1,43.2 Q1118.5,45 1118,50 L1115,103.5 L1089.6,134.2 L1085.3,135.4 Z" fill="url(#blueg)" />
<path d="M1027,45.5 L1098,48.4 L1085.3,135.4 L1020,118.8 L1016,80 Z" fill="url(#frontg)" />
<path d="M1026.4,45.3 C1022,56 1017,68 1015.6,79 L1018.5,116" fill="none" stroke="#1f4d9a" stroke-width="3" />
<path d="M1098.5,48.4 L1085.8,135.4" fill="none" stroke="#1a4c9c" stroke-width="5.5" />
<path d="M1020,118.8 L1084.7,137.8" fill="none" stroke="#2b2b2b" stroke-width="3" />
<path d="M1036.6,41 L1084,42.9 L1074.9,77.2 L1028.3,71 Z" fill="none" stroke="#555" stroke-width="0.6" stroke-dasharray="2,1.2"/>
<path d="M1035.3,101 L1062.9,106.3 L1062.9,115.5 L1035.3,109 Z" fill="none" stroke="#777" stroke-width="0.6" stroke-dasharray="1.8,1.4"/>
<line x1="1020.3" y1="84.5" x2="1032.0" y2="86.5" stroke="#3a5aa0" stroke-width="0.9" />
<line x1="1020.3" y1="87.3" x2="1031.0" y2="89.2" stroke="#3a5aa0" stroke-width="0.9" />
<text x="1067.5" y="156.5" font-size="18.6" text-anchor="middle" stroke="#231815" stroke-width="0.35" textLength="84.8" lengthAdjust="spacingAndGlyphs">Bright-Glo</text>
<text x="1064.3" y="179.4" font-size="18.6" text-anchor="middle" stroke="#231815" stroke-width="0.35" textLength="141.6" lengthAdjust="spacingAndGlyphs">Luciferase assay</text>
<text x="31.4" y="268.5" font-size="47" text-anchor="middle" font-weight="bold" textLength="23.9" lengthAdjust="spacingAndGlyphs">c</text>
<path d="M69,273 L150,273 L150,338.5 L63.3,338.5 L63.3,279 Z" fill="#fff" stroke="#2a2220" stroke-width="1.3" />
<rect x="68.3" y="278.0" width="76.3" height="56.0" fill="#f3f1ec" stroke="#2a2220" stroke-width="1.3"/>
<line x1="87.4" y1="278.0" x2="87.4" y2="334.0" stroke="#2a2220" stroke-width="1.0" />
<line x1="106.4" y1="278.0" x2="106.4" y2="334.0" stroke="#2a2220" stroke-width="1.0" />
<line x1="125.5" y1="278.0" x2="125.5" y2="334.0" stroke="#2a2220" stroke-width="1.0" />
<line x1="68.3" y1="296.7" x2="144.6" y2="296.7" stroke="#2a2220" stroke-width="1.0" />
<line x1="68.3" y1="315.3" x2="144.6" y2="315.3" stroke="#2a2220" stroke-width="1.0" />
<circle cx="77.8" cy="287.3" r="8.0" fill="#f5c6aa" stroke="#2a2220" stroke-width="1.0" />
<circle cx="77.8" cy="306.0" r="8.0" fill="#f5c6aa" stroke="#2a2220" stroke-width="1.0" />
<circle cx="77.8" cy="324.7" r="8.0" fill="#f5c6aa" stroke="#2a2220" stroke-width="1.0" />
<circle cx="96.9" cy="287.3" r="8.0" fill="#f5c6aa" stroke="#2a2220" stroke-width="1.0" />
<circle cx="96.9" cy="306.0" r="8.0" fill="#f5c6aa" stroke="#2a2220" stroke-width="1.0" />
<circle cx="96.9" cy="324.7" r="8.0" fill="#f5c6aa" stroke="#2a2220" stroke-width="1.0" />
<circle cx="116.0" cy="287.3" r="8.0" fill="#f5c6aa" stroke="#2a2220" stroke-width="1.0" />
<circle cx="116.0" cy="306.0" r="8.0" fill="#f5c6aa" stroke="#2a2220" stroke-width="1.0" />
<circle cx="116.0" cy="324.7" r="8.0" fill="#f5c6aa" stroke="#2a2220" stroke-width="1.0" />
<circle cx="135.1" cy="287.3" r="8.0" fill="#f5c6aa" stroke="#2a2220" stroke-width="1.0" />
<circle cx="135.1" cy="306.0" r="8.0" fill="#f5c6aa" stroke="#2a2220" stroke-width="1.0" />
<circle cx="135.1" cy="324.7" r="8.0" fill="#f5c6aa" stroke="#2a2220" stroke-width="1.0" />
<text x="99.3" y="358.0" font-size="18.6" text-anchor="middle" stroke="#231815" stroke-width="0.35" textLength="95.9" lengthAdjust="spacingAndGlyphs">ARPE19 or</text>
<text x="101.8" y="381.2" font-size="18.6" text-anchor="middle" stroke="#231815" stroke-width="0.35" textLength="136.9" lengthAdjust="spacingAndGlyphs">HeLaRC32 cells</text>
<path d="M116.5,397.3 L136.1,407.0 L136.1,433.4 L116.5,443.1 L97.0,433.4 L97.0,407.0 Z" fill="#8fbea8" stroke="#2c8a6c" stroke-width="3.9" stroke-linejoin="miter"/>
<path d="M116.5,397.7 L116.5,405.6 M98.1,407.8 L116.5,405.6 M134.9,407.8 L116.5,405.6 M116.5,405.6 L104.0,427.6 M116.5,405.6 L129.0,427.9 M104.0,427.6 L129.0,427.9 M98.1,407.8 L104.0,427.6 M134.9,407.8 L129.0,427.9 M104.0,427.6 L98.1,432.6 M129.0,427.9 L134.9,432.6 M104.0,427.6 L116.5,441.5 M129.0,427.9 L116.5,441.5" fill="none" stroke="#2c8a6c" stroke-width="1.75" stroke-linecap="round"/>
<text x="54.7" y="432.7" font-size="18.6" text-anchor="middle" fill="#2e8a6a" stroke="#2e8a6a" stroke-width="0.35" textLength="51.3" lengthAdjust="spacingAndGlyphs">EGFP</text>
<text x="116.8" y="460.0" font-size="18.6" text-anchor="middle" stroke="#231815" stroke-width="0.35" textLength="14.6" lengthAdjust="spacingAndGlyphs">or</text>
<path d="M116.5,469.2 L136.1,478.8 L136.1,504.6 L116.5,514.1 L97.0,504.6 L97.0,478.8 Z" fill="#cb5068" stroke="#981a33" stroke-width="3.9" stroke-linejoin="miter"/>
<path d="M116.5,469.6 L116.5,477.3 M98.1,479.5 L116.5,477.3 M134.9,479.5 L116.5,477.3 M116.5,477.3 L104.0,499.0 M116.5,477.3 L129.0,499.3 M104.0,499.0 L129.0,499.3 M98.1,479.5 L104.0,499.0 M134.9,479.5 L129.0,499.3 M104.0,499.0 L98.1,503.9 M129.0,499.3 L134.9,503.9 M104.0,499.0 L116.5,512.6 M129.0,499.3 L116.5,512.6" fill="none" stroke="#981a33" stroke-width="1.75" stroke-linecap="round"/>
<text x="43.2" y="496.8" font-size="18.6" text-anchor="middle" fill="#c9506b" stroke="#c9506b" stroke-width="0.35" textLength="88.4" lengthAdjust="spacingAndGlyphs">anti-VEGF</text>
<path d="M175.5,296.8 Q180.7,296.8 180.7,308.8 V389.2 Q180.7,398.2 187.0,398.2 Q180.7,398.2 180.7,407.2 V489.0 Q180.7,501.0 175.5,501.0" fill="none" stroke="#231815" stroke-width="2.2" />
<line x1="193.0" y1="393.2" x2="373.0" y2="393.2" stroke="#231815" stroke-width="2.4" />
<path d="M381.0,393.2 L372.0,388.6 L372.0,397.8 Z" fill="#231815" />
<line x1="384.9" y1="393.2" x2="474.6" y2="393.2" stroke="#f47a4e" stroke-width="2.4" />
<path d="M482.6,393.2 L473.6,388.6 L473.6,397.8 Z" fill="#f47a4e" />
<text x="283.1" y="379.8" font-size="18.6" text-anchor="middle" stroke="#231815" stroke-width="0.35" textLength="143.2" lengthAdjust="spacingAndGlyphs">Prechill on ice 1h</text>
<text x="300.5" y="416.0" font-size="18.6" text-anchor="middle" stroke="#231815" stroke-width="0.35" textLength="134.5" lengthAdjust="spacingAndGlyphs">Synchronization</text>
<text x="205.5" y="442.5" font-size="18.6" fill="#f47a4e" stroke="#f47a4e" stroke-width="0.35" font-family="'Liberation Sans', 'Noto Sans CJK SC', sans-serif">【</text>
<text x="299.1" y="442.5" font-size="18.6" text-anchor="middle" fill="#f47a4e" stroke="#f47a4e" stroke-width="0.35" textLength="146.4" lengthAdjust="spacingAndGlyphs">AAV transduction</text>
<text x="277.7" y="465.3" font-size="18.6" text-anchor="middle" fill="#f47a4e" stroke="#f47a4e" stroke-width="0.35" textLength="140.9" lengthAdjust="spacingAndGlyphs">MOI=5E5 or 5E4</text>
<text x="349.2" y="465.3" font-size="18.6" fill="#f47a4e" stroke="#f47a4e" stroke-width="0.35" font-family="'Liberation Sans', 'Noto Sans CJK SC', sans-serif">】</text>
<text x="286.2" y="488.0" font-size="18.6" text-anchor="middle" fill="#f47a4e" stroke="#f47a4e" stroke-width="0.35" textLength="127.3" lengthAdjust="spacingAndGlyphs">incubate on ice</text>
<text x="424.2" y="331.8" font-size="18.6" text-anchor="middle" fill="#f47a4e" stroke="#f47a4e" stroke-width="0.35" textLength="131.3" lengthAdjust="spacingAndGlyphs">Cold PBS wash</text>
<text x="425.5" y="355.4" font-size="18.6" text-anchor="middle" fill="#f47a4e" stroke="#f47a4e" stroke-width="0.35" textLength="113.9" lengthAdjust="spacingAndGlyphs">fresh medium</text>
<text x="427.1" y="378.2" font-size="18.6" text-anchor="middle" fill="#f47a4e" stroke="#f47a4e" stroke-width="0.35" textLength="86.4" lengthAdjust="spacingAndGlyphs">incubation</text>
<line x1="487.6" y1="392.8" x2="1133.0" y2="392.8" stroke="#231815" stroke-width="2.2" />
<path d="M1141.0,392.8 L1132.0,388.4 L1132.0,397.2 Z" fill="#231815" />
<circle cx="546.2" cy="392.8" r="7.6" fill="#e84e50" stroke="#2a2220" stroke-width="1.6" />
<circle cx="624.6" cy="392.8" r="7.6" fill="#e84e50" stroke="#2a2220" stroke-width="1.6" />
<circle cx="727.9" cy="392.8" r="7.6" fill="#e84e50" stroke="#2a2220" stroke-width="1.6" />
<circle cx="833.7" cy="392.8" r="7.6" fill="#e84e50" stroke="#2a2220" stroke-width="1.6" />
<circle cx="890.0" cy="392.8" r="7.6" fill="#e84e50" stroke="#2a2220" stroke-width="1.6" />
<circle cx="947.0" cy="392.8" r="7.6" fill="#e84e50" stroke="#2a2220" stroke-width="1.6" />
<circle cx="1004.0" cy="392.8" r="7.6" fill="#e84e50" stroke="#2a2220" stroke-width="1.6" />
<circle cx="1061.0" cy="392.8" r="7.6" fill="#e84e50" stroke="#2a2220" stroke-width="1.6" />
<circle cx="1115.5" cy="392.8" r="7.6" fill="#e84e50" stroke="#2a2220" stroke-width="1.6" />
<text x="494.5" y="417.7" font-size="18.6" text-anchor="middle" stroke="#231815" stroke-width="0.35">0 h</text>
<text x="549.7" y="417.7" font-size="18.6" text-anchor="middle" stroke="#231815" stroke-width="0.35">1 h</text>
<text x="628.0" y="417.7" font-size="18.6" text-anchor="middle" stroke="#231815" stroke-width="0.35">4 h</text>
<text x="729.6" y="416.3" font-size="18.6" text-anchor="middle" stroke="#231815" stroke-width="0.35">6 h</text>
<text x="836.5" y="417.2" font-size="18.6" text-anchor="middle" stroke="#231815" stroke-width="0.35">16 h</text>
<text x="894.6" y="417.7" font-size="18.6" text-anchor="middle" stroke="#231815" stroke-width="0.35">24 h</text>
<text x="951.0" y="417.7" font-size="18.6" text-anchor="middle" stroke="#231815" stroke-width="0.35">40 h</text>
<text x="1008.0" y="417.7" font-size="18.6" text-anchor="middle" stroke="#231815" stroke-width="0.35">48 h</text>
<text x="1063.5" y="417.7" font-size="18.6" text-anchor="middle" stroke="#231815" stroke-width="0.35">64 h</text>
<text x="1116.0" y="417.7" font-size="18.6" text-anchor="middle" stroke="#231815" stroke-width="0.35">72 h</text>
<text x="482.6" y="449.0" font-size="18.6" text-anchor="middle" stroke="#231815" stroke-width="0.35" textLength="62.5" lengthAdjust="spacingAndGlyphs">Binding</text>
<text x="559.5" y="449.0" font-size="18.6" text-anchor="middle" stroke="#231815" stroke-width="0.35" textLength="55.9" lengthAdjust="spacingAndGlyphs">uptake</text>
<path d="M622.8,422.3 Q622.8,428.7 630.8,428.7 H671.1 Q677.1,428.7 677.1,434.0 Q677.1,428.7 683.1,428.7 H723.4 Q731.4,428.7 731.4,422.3" fill="none" stroke="#231815" stroke-width="2.2" />
<text x="681.5" y="450.8" font-size="18.6" text-anchor="middle" stroke="#231815" stroke-width="0.35" textLength="86.4" lengthAdjust="spacingAndGlyphs">Trafficking</text>
<path d="M833.0,422.3 Q833.0,428.7 841.0,428.7 H972.7 Q978.7,428.7 978.7,434.0 Q978.7,428.7 984.7,428.7 H1116.4 Q1124.4,428.7 1124.4,422.3" fill="none" stroke="#231815" stroke-width="2.2" />
<text x="984.0" y="450.8" font-size="18.6" text-anchor="middle" stroke="#231815" stroke-width="0.35" textLength="92.9" lengthAdjust="spacingAndGlyphs">Expression</text>
<text x="1174.2" y="33.3" font-size="47" text-anchor="middle" font-weight="bold" textLength="25.5" lengthAdjust="spacingAndGlyphs">b</text>
<line x1="1229.0" y1="93.2" x2="1229.0" y2="384.2" stroke="#050505" stroke-width="2.5" />
<line x1="1218.2" y1="383.0" x2="1229.0" y2="383.0" stroke="#050505" stroke-width="2.5" />
<text x="1213.0" y="389.3" font-size="18" text-anchor="end" stroke="#231815" stroke-width="0.35">0</text>
<line x1="1218.2" y1="310.9" x2="1229.0" y2="310.9" stroke="#050505" stroke-width="2.5" />
<text x="1215.0" y="317.4" font-size="18" text-anchor="end" stroke="#231815" stroke-width="0.35">5×10<tspan font-size="12" dy="-5">4</tspan></text>
<line x1="1218.2" y1="238.7" x2="1229.0" y2="238.7" stroke="#050505" stroke-width="2.5" />
<text x="1215.0" y="245.2" font-size="18" text-anchor="end" stroke="#231815" stroke-width="0.35">1×10<tspan font-size="12" dy="-5">5</tspan></text>
<line x1="1218.2" y1="166.5" x2="1229.0" y2="166.5" stroke="#050505" stroke-width="2.5" />
<text x="1215.0" y="173.0" font-size="18" text-anchor="end" stroke="#231815" stroke-width="0.35">1.5×10<tspan font-size="12" dy="-5">5</tspan></text>
<line x1="1218.2" y1="94.4" x2="1229.0" y2="94.4" stroke="#050505" stroke-width="2.5" />
<text x="1215.0" y="100.9" font-size="18" text-anchor="end" stroke="#231815" stroke-width="0.35">2×10<tspan font-size="12" dy="-5">5</tspan></text>
<line x1="1218.3" y1="383.0" x2="1661.3" y2="383.0" stroke="#050505" stroke-width="2.5" />
<line x1="1335.0" y1="383.0" x2="1335.0" y2="393.5" stroke="#050505" stroke-width="2.5" />
<line x1="1554.0" y1="383.0" x2="1554.0" y2="393.5" stroke="#050505" stroke-width="2.5" />
<text x="1151.4" y="241.0" font-size="22" text-anchor="middle" stroke="#231815" stroke-width="0.35" textLength="43.0" lengthAdjust="spacingAndGlyphs" transform="rotate(-90 1151.4 241.0)">RLU</text>
<text x="1335.0" y="414.6" font-size="19.5" text-anchor="middle" stroke="#231815" stroke-width="0.35" textLength="179.0" lengthAdjust="spacingAndGlyphs">AAV8 Nab-Negative</text>
<text x="1554.4" y="414.6" font-size="19.5" text-anchor="middle" stroke="#231815" stroke-width="0.35" textLength="166.0" lengthAdjust="spacingAndGlyphs">AAV8 Nab-Positve</text>
<circle cx="1241.2" cy="271.0" r="5.2" fill="#fe6b6b" />
<circle cx="1241.2" cy="276.0" r="5.2" fill="#fe6b6b" />
<circle cx="1241.2" cy="285.0" r="5.2" fill="#fe6b6b" />
<line x1="1234.2" y1="278.3" x2="1248.2" y2="278.3" stroke="#fe6b6b" stroke-width="2.6" />
<rect x="1255.1" y="279.3" width="10.4" height="10.4" fill="#f03c3c" />
<rect x="1255.1" y="287.1" width="10.4" height="10.4" fill="#f03c3c" />
<rect x="1255.1" y="282.8" width="10.4" height="10.4" fill="#f03c3c" />
<line x1="1253.3" y1="287.0" x2="1267.3" y2="287.0" stroke="#888" stroke-width="2.6" />
<path d="M1278.5,160.3 L1284.0,170.2 L1273.0,170.2 Z" fill="#a00000" />
<path d="M1278.5,175.3 L1284.0,185.2 L1273.0,185.2 Z" fill="#a00000" />
<path d="M1278.5,177.3 L1284.0,187.2 L1273.0,187.2 Z" fill="#a00000" />
<line x1="1271.5" y1="171.0" x2="1285.5" y2="171.0" stroke="#888" stroke-width="2.6" />
<path d="M1297.8,239.2 L1303.3,229.3 L1292.3,229.3 Z" fill="#666666" />
<path d="M1297.8,272.7 L1303.3,262.8 L1292.3,262.8 Z" fill="#666666" />
<path d="M1297.8,279.7 L1303.3,269.8 L1292.3,269.8 Z" fill="#666666" />
<line x1="1297.8" y1="245.8" x2="1297.8" y2="270.0" stroke="#666666" stroke-width="2.4" />
<line x1="1293.8" y1="245.8" x2="1301.8" y2="245.8" stroke="#666666" stroke-width="2.4" />
<line x1="1293.8" y1="270.0" x2="1301.8" y2="270.0" stroke="#666666" stroke-width="2.4" />
<line x1="1290.8" y1="258.5" x2="1304.8" y2="258.5" stroke="#666666" stroke-width="2.6" />
<path d="M1316.3,240.5 L1321.2,246.0 L1316.3,251.5 L1311.4,246.0 Z" fill="#000000" />
<path d="M1316.3,256.5 L1321.2,262.0 L1316.3,267.5 L1311.4,262.0 Z" fill="#000000" />
<path d="M1316.3,269.5 L1321.2,275.0 L1316.3,280.5 L1311.4,275.0 Z" fill="#000000" />
<line x1="1316.3" y1="252.0" x2="1316.3" y2="268.2" stroke="#000000" stroke-width="2.4" />
<line x1="1312.3" y1="252.0" x2="1320.3" y2="252.0" stroke="#000000" stroke-width="2.4" />
<line x1="1312.3" y1="268.2" x2="1320.3" y2="268.2" stroke="#000000" stroke-width="2.4" />
<line x1="1309.3" y1="260.4" x2="1323.3" y2="260.4" stroke="#000000" stroke-width="2.6" />
<circle cx="1335.3" cy="229.0" r="4.1" fill="none" stroke="#ff9b9b" stroke-width="2.2" />
<circle cx="1335.3" cy="238.5" r="4.1" fill="none" stroke="#ff9b9b" stroke-width="2.2" />
<circle cx="1335.3" cy="249.2" r="4.1" fill="none" stroke="#ff9b9b" stroke-width="2.2" />
<line x1="1335.3" y1="234.0" x2="1335.3" y2="244.0" stroke="#ff9b9b" stroke-width="2.4" />
<line x1="1331.3" y1="234.0" x2="1339.3" y2="234.0" stroke="#ff9b9b" stroke-width="2.4" />
<line x1="1331.3" y1="244.0" x2="1339.3" y2="244.0" stroke="#ff9b9b" stroke-width="2.4" />
<line x1="1328.3" y1="239.0" x2="1342.3" y2="239.0" stroke="#ff9b9b" stroke-width="2.6" />
<rect x="1349.7" y="246.9" width="8.2" height="8.2" fill="none" stroke="#f58080" stroke-width="2.2"/>
<rect x="1349.7" y="249.9" width="8.2" height="8.2" fill="none" stroke="#f58080" stroke-width="2.2"/>
<rect x="1349.7" y="256.9" width="8.2" height="8.2" fill="none" stroke="#f58080" stroke-width="2.2"/>
<line x1="1353.8" y1="249.0" x2="1353.8" y2="258.0" stroke="#f58080" stroke-width="2.4" />
<line x1="1349.8" y1="249.0" x2="1357.8" y2="249.0" stroke="#f58080" stroke-width="2.4" />
<line x1="1349.8" y1="258.0" x2="1357.8" y2="258.0" stroke="#f58080" stroke-width="2.4" />
<line x1="1346.8" y1="253.0" x2="1360.8" y2="253.0" stroke="#f58080" stroke-width="2.6" />
<path d="M1372.8,260.1 L1377.2,268.4 L1368.4,268.4 Z" fill="none" stroke="#ff0000" stroke-width="2.2" />
<path d="M1372.8,266.1 L1377.2,274.4 L1368.4,274.4 Z" fill="none" stroke="#ff0000" stroke-width="2.2" />
<path d="M1372.8,269.1 L1377.2,277.4 L1368.4,277.4 Z" fill="none" stroke="#ff0000" stroke-width="2.2" />
<line x1="1372.8" y1="265.0" x2="1372.8" y2="275.0" stroke="#ff0000" stroke-width="2.4" />
<line x1="1368.8" y1="265.0" x2="1376.8" y2="265.0" stroke="#ff0000" stroke-width="2.4" />
<line x1="1368.8" y1="275.0" x2="1376.8" y2="275.0" stroke="#ff0000" stroke-width="2.4" />
<line x1="1365.8" y1="270.0" x2="1379.8" y2="270.0" stroke="#ff0000" stroke-width="2.6" />
<path d="M1391.9,254.4 L1396.3,246.1 L1387.5,246.1 Z" fill="none" stroke="#5b5bff" stroke-width="2.2" />
<path d="M1391.9,284.9 L1396.3,276.6 L1387.5,276.6 Z" fill="none" stroke="#5b5bff" stroke-width="2.2" />
<path d="M1391.9,285.9 L1396.3,277.6 L1387.5,277.6 Z" fill="none" stroke="#5b5bff" stroke-width="2.2" />
<line x1="1391.9" y1="260.4" x2="1391.9" y2="281.0" stroke="#5b5bff" stroke-width="2.4" />
<line x1="1387.9" y1="260.4" x2="1395.9" y2="260.4" stroke="#5b5bff" stroke-width="2.4" />
<line x1="1387.9" y1="281.0" x2="1395.9" y2="281.0" stroke="#5b5bff" stroke-width="2.4" />
<line x1="1384.9" y1="271.0" x2="1398.9" y2="271.0" stroke="#5b5bff" stroke-width="2.6" />
<path d="M1410.3,265.6 L1414.5,270.0 L1410.3,274.4 L1406.1,270.0 Z" fill="none" stroke="#0000ff" stroke-width="2.0" />
<path d="M1410.3,271.6 L1414.5,276.0 L1410.3,280.4 L1406.1,276.0 Z" fill="none" stroke="#0000ff" stroke-width="2.0" />
<path d="M1410.3,284.6 L1414.5,289.0 L1410.3,293.4 L1406.1,289.0 Z" fill="none" stroke="#0000ff" stroke-width="2.0" />
<line x1="1410.3" y1="272.0" x2="1410.3" y2="283.0" stroke="#0000ff" stroke-width="2.4" />
<line x1="1406.3" y1="272.0" x2="1414.3" y2="272.0" stroke="#0000ff" stroke-width="2.4" />
<line x1="1406.3" y1="283.0" x2="1414.3" y2="283.0" stroke="#0000ff" stroke-width="2.4" />
<line x1="1403.3" y1="277.0" x2="1417.3" y2="277.0" stroke="#0000ff" stroke-width="2.6" />
<circle cx="1429.4" cy="272.0" r="5.2" fill="#000080" />
<circle cx="1429.4" cy="279.0" r="5.2" fill="#000080" />
<circle cx="1429.4" cy="286.0" r="5.2" fill="#000080" />
<line x1="1429.4" y1="274.0" x2="1429.4" y2="283.0" stroke="#000080" stroke-width="2.4" />
<line x1="1425.4" y1="274.0" x2="1433.4" y2="274.0" stroke="#000080" stroke-width="2.4" />
<line x1="1425.4" y1="283.0" x2="1433.4" y2="283.0" stroke="#000080" stroke-width="2.4" />
<line x1="1422.4" y1="278.0" x2="1436.4" y2="278.0" stroke="#000080" stroke-width="2.6" />
<circle cx="1460.5" cy="256.7" r="5.2" fill="#fe6b6b" />
<circle cx="1460.5" cy="258.5" r="5.2" fill="#fe6b6b" />
<circle cx="1460.5" cy="272.5" r="5.2" fill="#fe6b6b" />
<line x1="1460.5" y1="261.0" x2="1460.5" y2="266.6" stroke="#fe6b6b" stroke-width="2.4" />
<line x1="1456.5" y1="261.0" x2="1464.5" y2="261.0" stroke="#fe6b6b" stroke-width="2.4" />
<line x1="1456.5" y1="266.6" x2="1464.5" y2="266.6" stroke="#fe6b6b" stroke-width="2.4" />
<line x1="1453.5" y1="263.1" x2="1467.5" y2="263.1" stroke="#fe6b6b" stroke-width="2.6" />
<rect x="1473.8" y="377.9" width="10.4" height="10.4" fill="#f03c3c" />
<rect x="1473.8" y="377.9" width="10.4" height="10.4" fill="#f03c3c" />
<rect x="1473.8" y="377.9" width="10.4" height="10.4" fill="#f03c3c" />
<path d="M1497.4,371.8 L1502.9,381.7 L1491.9,381.7 Z" fill="#a00000" />
<path d="M1497.4,371.8 L1502.9,381.7 L1491.9,381.7 Z" fill="#a00000" />
<path d="M1497.4,371.8 L1502.9,381.7 L1491.9,381.7 Z" fill="#a00000" />
<line x1="1490.4" y1="377.2" x2="1504.4" y2="377.2" stroke="#888" stroke-width="2.6" />
<path d="M1516.7,261.7 L1522.2,251.8 L1511.2,251.8 Z" fill="#666666" />
<path d="M1516.7,276.2 L1522.2,266.3 L1511.2,266.3 Z" fill="#666666" />
<path d="M1516.7,277.7 L1522.2,267.8 L1511.2,267.8 Z" fill="#666666" />
<line x1="1509.7" y1="262.0" x2="1523.7" y2="262.0" stroke="#666666" stroke-width="2.6" />
<path d="M1535.4,216.5 L1540.3,222.0 L1535.4,227.5 L1530.5,222.0 Z" fill="#000000" />
<path d="M1535.4,223.5 L1540.3,229.0 L1535.4,234.5 L1530.5,229.0 Z" fill="#000000" />
<path d="M1535.4,238.9 L1540.3,244.4 L1535.4,249.9 L1530.5,244.4 Z" fill="#000000" />
<line x1="1535.4" y1="222.0" x2="1535.4" y2="237.4" stroke="#000000" stroke-width="2.4" />
<line x1="1531.4" y1="222.0" x2="1539.4" y2="222.0" stroke="#000000" stroke-width="2.4" />
<line x1="1531.4" y1="237.4" x2="1539.4" y2="237.4" stroke="#000000" stroke-width="2.4" />
<line x1="1528.4" y1="231.0" x2="1542.4" y2="231.0" stroke="#000000" stroke-width="2.6" />
<circle cx="1554.4" cy="211.6" r="4.1" fill="none" stroke="#ff9b9b" stroke-width="2.2" />
<circle cx="1554.4" cy="233.0" r="4.1" fill="none" stroke="#ff9b9b" stroke-width="2.2" />
<circle cx="1554.4" cy="236.0" r="4.1" fill="none" stroke="#ff9b9b" stroke-width="2.2" />
<line x1="1554.4" y1="218.6" x2="1554.4" y2="236.0" stroke="#ff9b9b" stroke-width="2.4" />
<line x1="1550.4" y1="218.6" x2="1558.4" y2="218.6" stroke="#ff9b9b" stroke-width="2.4" />
<line x1="1550.4" y1="236.0" x2="1558.4" y2="236.0" stroke="#ff9b9b" stroke-width="2.4" />
<line x1="1547.4" y1="227.4" x2="1561.4" y2="227.4" stroke="#ff9b9b" stroke-width="2.6" />
<rect x="1568.8" y="201.7" width="8.2" height="8.2" fill="none" stroke="#f58080" stroke-width="2.2"/>
<rect x="1568.8" y="209.9" width="8.2" height="8.2" fill="none" stroke="#f58080" stroke-width="2.2"/>
<rect x="1568.8" y="213.4" width="8.2" height="8.2" fill="none" stroke="#f58080" stroke-width="2.2"/>
<line x1="1565.9" y1="213.0" x2="1579.9" y2="213.0" stroke="#f58080" stroke-width="2.6" />
<path d="M1591.8,205.1 L1596.2,213.4 L1587.4,213.4 Z" fill="none" stroke="#ff0000" stroke-width="2.2" />
<path d="M1591.8,228.1 L1596.2,236.4 L1587.4,236.4 Z" fill="none" stroke="#ff0000" stroke-width="2.2" />
<path d="M1591.8,230.1 L1596.2,238.4 L1587.4,238.4 Z" fill="none" stroke="#ff0000" stroke-width="2.2" />
<line x1="1591.8" y1="217.5" x2="1591.8" y2="234.0" stroke="#ff0000" stroke-width="2.4" />
<line x1="1587.8" y1="217.5" x2="1595.8" y2="217.5" stroke="#ff0000" stroke-width="2.4" />
<line x1="1587.8" y1="234.0" x2="1595.8" y2="234.0" stroke="#ff0000" stroke-width="2.4" />
<line x1="1584.8" y1="225.7" x2="1598.8" y2="225.7" stroke="#ff0000" stroke-width="2.6" />
<path d="M1610.9,213.6 L1615.3,205.3 L1606.5,205.3 Z" fill="none" stroke="#5b5bff" stroke-width="2.2" />
<path d="M1610.9,258.9 L1615.3,250.6 L1606.5,250.6 Z" fill="none" stroke="#5b5bff" stroke-width="2.2" />
<path d="M1610.9,259.9 L1615.3,251.6 L1606.5,251.6 Z" fill="none" stroke="#5b5bff" stroke-width="2.2" />
<line x1="1610.9" y1="223.9" x2="1610.9" y2="255.0" stroke="#5b5bff" stroke-width="2.4" />
<line x1="1606.9" y1="223.9" x2="1614.9" y2="223.9" stroke="#5b5bff" stroke-width="2.4" />
<line x1="1606.9" y1="255.0" x2="1614.9" y2="255.0" stroke="#5b5bff" stroke-width="2.4" />
<line x1="1603.9" y1="239.7" x2="1617.9" y2="239.7" stroke="#5b5bff" stroke-width="2.6" />
<path d="M1629.3,226.1 L1633.5,230.5 L1629.3,234.9 L1625.1,230.5 Z" fill="none" stroke="#0000ff" stroke-width="2.0" />
<path d="M1629.3,238.6 L1633.5,243.0 L1629.3,247.4 L1625.1,243.0 Z" fill="none" stroke="#0000ff" stroke-width="2.0" />
<path d="M1629.3,252.6 L1633.5,257.0 L1629.3,261.4 L1625.1,257.0 Z" fill="none" stroke="#0000ff" stroke-width="2.0" />
<line x1="1629.3" y1="234.0" x2="1629.3" y2="252.0" stroke="#0000ff" stroke-width="2.4" />
<line x1="1625.3" y1="234.0" x2="1633.3" y2="234.0" stroke="#0000ff" stroke-width="2.4" />
<line x1="1625.3" y1="252.0" x2="1633.3" y2="252.0" stroke="#0000ff" stroke-width="2.4" />
<line x1="1622.3" y1="243.2" x2="1636.3" y2="243.2" stroke="#0000ff" stroke-width="2.6" />
<circle cx="1649.0" cy="252.0" r="5.2" fill="#000080" />
<circle cx="1649.0" cy="258.0" r="5.2" fill="#000080" />
<circle cx="1649.0" cy="265.0" r="5.2" fill="#000080" />
<line x1="1649.0" y1="255.0" x2="1649.0" y2="264.0" stroke="#000080" stroke-width="2.4" />
<line x1="1645.0" y1="255.0" x2="1653.0" y2="255.0" stroke="#000080" stroke-width="2.4" />
<line x1="1645.0" y1="264.0" x2="1653.0" y2="264.0" stroke="#000080" stroke-width="2.4" />
<line x1="1642.0" y1="259.6" x2="1656.0" y2="259.6" stroke="#000080" stroke-width="2.6" />
<circle cx="1702.0" cy="130.4" r="4.6" fill="#fe6b6b" />
<text x="1735.4" y="138.5" font-size="22.3" stroke="#231815" stroke-width="0.35">AAVv128</text>
<rect x="1697.4" y="149.4" width="9.2" height="9.2" fill="#f03c3c" />
<text x="1735.4" y="161.8" font-size="22.3" stroke="#231815" stroke-width="0.35">1:2</text>
<path d="M1702.0,170.9 L1706.8,179.7 L1697.2,179.7 Z" fill="#a00000" />
<text x="1735.4" y="183.3" font-size="22.3" stroke="#231815" stroke-width="0.35">1:10</text>
<path d="M1702.0,203.9 L1706.8,195.1 L1697.2,195.1 Z" fill="#666666" />
<text x="1735.4" y="206.6" font-size="22.3" stroke="#231815" stroke-width="0.35">1:50</text>
<path d="M1702.0,215.9 L1706.4,220.7 L1702.0,225.5 L1697.6,220.7 Z" fill="#000000" />
<text x="1735.4" y="228.4" font-size="22.3" stroke="#231815" stroke-width="0.35">1:100</text>
<circle cx="1702.0" cy="242.7" r="3.4999999999999996" fill="none" stroke="#ff9b9b" stroke-width="2.2" />
<text x="1735.4" y="250.4" font-size="22.3" stroke="#231815" stroke-width="0.35">1:250</text>
<rect x="1698.5" y="262.5" width="7.0" height="7.0" fill="none" stroke="#f58080" stroke-width="2.2"/>
<text x="1735.4" y="273.4" font-size="22.3" stroke="#231815" stroke-width="0.35">1:500</text>
<path d="M1702.0,283.9 L1705.9,291.3 L1698.1,291.3 Z" fill="none" stroke="#ff0000" stroke-width="2.2" />
<text x="1735.4" y="295.2" font-size="22.3" stroke="#231815" stroke-width="0.35">1:1000</text>
<path d="M1702.0,314.7 L1705.9,307.3 L1698.1,307.3 Z" fill="none" stroke="#5b5bff" stroke-width="2.2" />
<text x="1735.4" y="318.5" font-size="22.3" stroke="#231815" stroke-width="0.35">1:2500</text>
<path d="M1702.0,327.6 L1705.7,331.5 L1702.0,335.4 L1698.3,331.5 Z" fill="none" stroke="#0000ff" stroke-width="2.0" />
<text x="1735.4" y="338.8" font-size="22.3" stroke="#231815" stroke-width="0.35">1:5000</text>
<circle cx="1702.0" cy="350.7" r="4.6" fill="#000080" />
<text x="1735.4" y="358.4" font-size="22.3" stroke="#231815" stroke-width="0.35">1:10000</text>
<path d="M1821,154.8 H1835.3 V349.4 H1821" fill="none" stroke="#050505" stroke-width="2.2" />
<text x="1836.4" y="254.0" font-size="22.3" stroke="#231815" stroke-width="0.35">AAVv128+serum</text>
</svg>
</body></html>
